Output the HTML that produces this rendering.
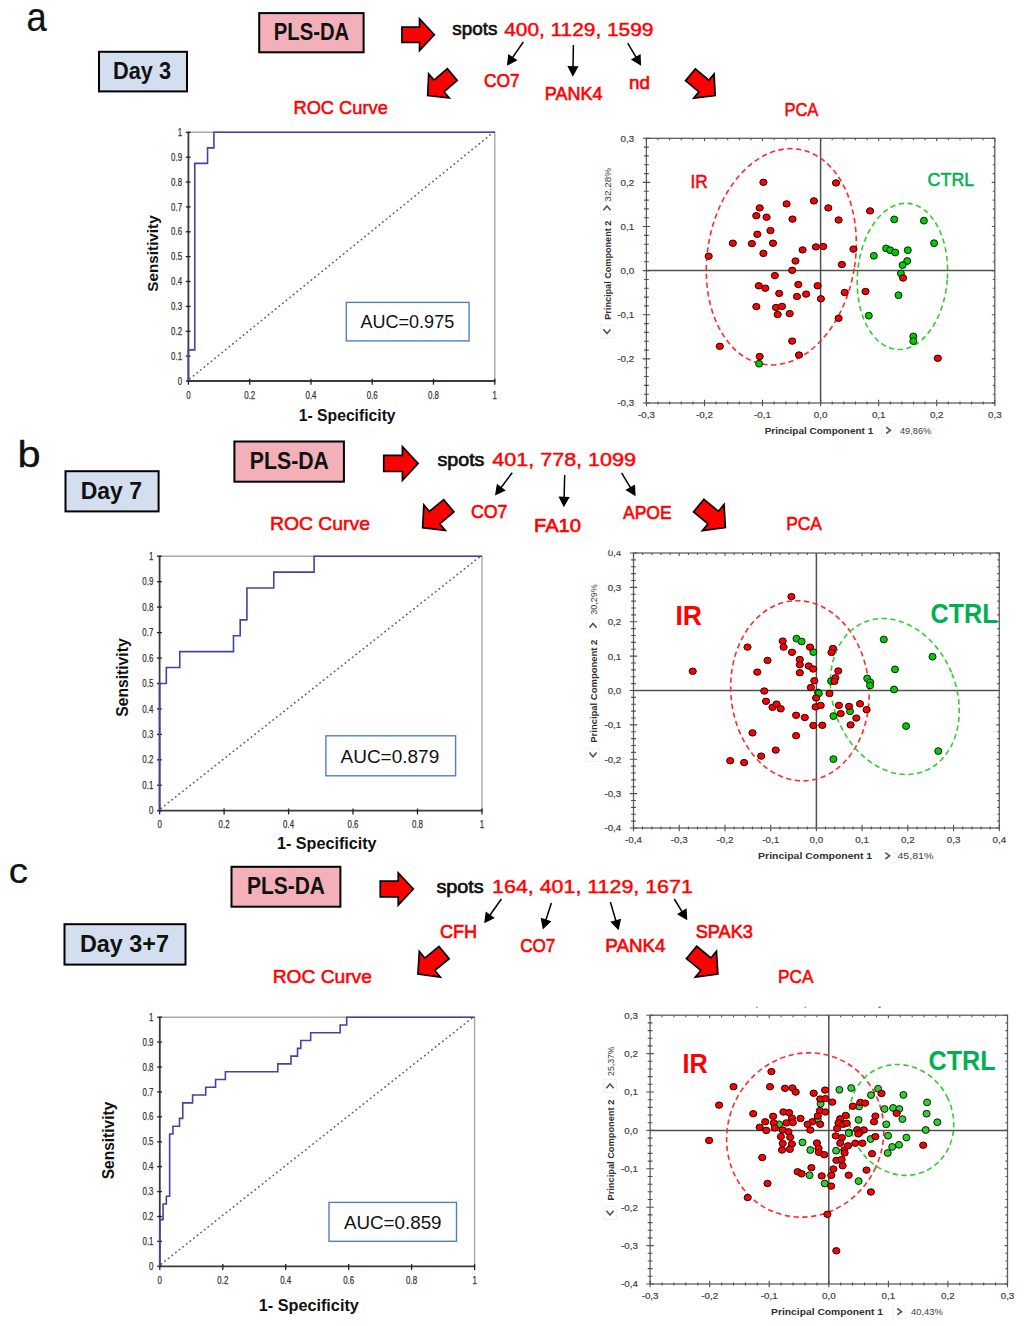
<!DOCTYPE html><html><head><meta charset="utf-8"><style>html,body{margin:0;padding:0;background:#fff;overflow:hidden}svg{display:block}text{font-family:"Liberation Sans",sans-serif}</style></head><body>
<svg width="1024" height="1326" viewBox="0 0 1024 1326">
<rect width="1024" height="1326" fill="#fff"/>
<text x="26.5" y="30.5" font-size="41" fill="#111" textLength="20.2" lengthAdjust="spacingAndGlyphs" stroke="#111" stroke-width="0.2" stroke-linejoin="round">a</text>
<rect x="99.0" y="51.8" width="88.0" height="39.6" fill="#d3dfee" stroke="#000" stroke-width="2"/>
<text x="113.0" y="79.1" font-size="23.5" fill="#111" font-weight="bold" textLength="58.0" lengthAdjust="spacingAndGlyphs">Day 3</text>
<rect x="259.2" y="13.1" width="104.4" height="39.2" fill="#f3b0b8" stroke="#000" stroke-width="2"/>
<text x="273.8" y="40.0" font-size="23.5" fill="#111" font-weight="bold" textLength="75.4" lengthAdjust="spacingAndGlyphs">PLS-DA</text>
<path transform="translate(401.95,34.70) rotate(0.00)" d="M0,-7.63 L17.60,-7.63 L17.60,-15.85 L32.35,0 L17.60,15.85 L17.60,7.63 L0,7.63 Z" fill="#ff0000" stroke="#000" stroke-width="1.7" stroke-linejoin="miter"/>
<text x="452.3" y="35.3" font-size="19" fill="#111" textLength="45.0" lengthAdjust="spacingAndGlyphs" stroke="#111" stroke-width="0.7" stroke-linejoin="round">spots</text>
<text x="504.2" y="35.5" font-size="19" fill="#ff0000" textLength="149.2" lengthAdjust="spacingAndGlyphs" stroke="#ff0000" stroke-width="0.45" stroke-linejoin="round">400, 1129, 1599</text>
<line x1="523.3" y1="42.0" x2="512.3" y2="57.9" stroke="#000" stroke-width="1.5"/>
<path d="M506.9,65.7 L508.3,53.9 L517.5,60.3 Z" fill="#000"/>
<line x1="573.4" y1="45.0" x2="573.0" y2="67.2" stroke="#000" stroke-width="1.5"/>
<path d="M572.8,76.7 L567.4,66.1 L578.6,66.3 Z" fill="#000"/>
<line x1="627.7" y1="43.1" x2="636.3" y2="57.6" stroke="#000" stroke-width="1.5"/>
<path d="M641.1,65.8 L630.9,59.6 L640.6,53.9 Z" fill="#000"/>
<text x="484.0" y="87.3" font-size="19" fill="#ff0000" textLength="35.7" lengthAdjust="spacingAndGlyphs" stroke="#ff0000" stroke-width="0.65" stroke-linejoin="round">CO7</text>
<text x="544.8" y="100.2" font-size="19" fill="#ff0000" textLength="57.6" lengthAdjust="spacingAndGlyphs" stroke="#ff0000" stroke-width="0.65" stroke-linejoin="round">PANK4</text>
<text x="629.0" y="88.6" font-size="19" fill="#ff0000" textLength="20.9" lengthAdjust="spacingAndGlyphs" stroke="#ff0000" stroke-width="0.65" stroke-linejoin="round">nd</text>
<path transform="translate(452.30,74.60) rotate(139.61)" d="M0,-7.62 L17.56,-7.62 L17.56,-15.82 L32.28,0 L17.56,15.82 L17.56,7.62 L0,7.62 Z" fill="#ff0000" stroke="#000" stroke-width="1.7" stroke-linejoin="miter"/>
<path transform="translate(690.45,74.75) rotate(40.04)" d="M0,-7.62 L17.57,-7.62 L17.57,-15.83 L32.30,0 L17.57,15.83 L17.57,7.62 L0,7.62 Z" fill="#ff0000" stroke="#000" stroke-width="1.7" stroke-linejoin="miter"/>
<text x="293.5" y="113.8" font-size="19" fill="#ff0000" textLength="94.3" lengthAdjust="spacingAndGlyphs" stroke="#ff0000" stroke-width="0.55" stroke-linejoin="round">ROC Curve</text>
<text x="784.4" y="115.7" font-size="19" fill="#ff0000" textLength="34.0" lengthAdjust="spacingAndGlyphs" stroke="#ff0000" stroke-width="0.55" stroke-linejoin="round">PCA</text>
<path d="M188.4,132.3 H494.8 V381.0" fill="none" stroke="#aaa" stroke-width="1.4"/>
<line x1="189.9" y1="378.7" x2="494.8" y2="131.2" stroke="#606060" stroke-width="1.6" stroke-linecap="round" stroke-dasharray="0.4,4.2"/>
<path d="M188.4,131.8 V381.0 H495.3" fill="none" stroke="#3a3a3a" stroke-width="1.8"/>
<line x1="185.8" y1="381.0" x2="190.6" y2="381.0" stroke="#222" stroke-width="1.3"/>
<text x="177.7" y="384.6" font-size="11" fill="#333" textLength="4.4" lengthAdjust="spacingAndGlyphs" stroke="#333" stroke-width="0.25" stroke-linejoin="round">0</text>
<line x1="185.8" y1="356.1" x2="190.6" y2="356.1" stroke="#222" stroke-width="1.3"/>
<text x="171.1" y="359.7" font-size="11" fill="#333" textLength="11.0" lengthAdjust="spacingAndGlyphs" stroke="#333" stroke-width="0.25" stroke-linejoin="round">0.1</text>
<line x1="185.8" y1="331.3" x2="190.6" y2="331.3" stroke="#222" stroke-width="1.3"/>
<text x="171.1" y="334.9" font-size="11" fill="#333" textLength="11.0" lengthAdjust="spacingAndGlyphs" stroke="#333" stroke-width="0.25" stroke-linejoin="round">0.2</text>
<line x1="185.8" y1="306.4" x2="190.6" y2="306.4" stroke="#222" stroke-width="1.3"/>
<text x="171.1" y="310.0" font-size="11" fill="#333" textLength="11.0" lengthAdjust="spacingAndGlyphs" stroke="#333" stroke-width="0.25" stroke-linejoin="round">0.3</text>
<line x1="185.8" y1="281.5" x2="190.6" y2="281.5" stroke="#222" stroke-width="1.3"/>
<text x="171.1" y="285.1" font-size="11" fill="#333" textLength="11.0" lengthAdjust="spacingAndGlyphs" stroke="#333" stroke-width="0.25" stroke-linejoin="round">0.4</text>
<line x1="185.8" y1="256.6" x2="190.6" y2="256.6" stroke="#222" stroke-width="1.3"/>
<text x="171.1" y="260.2" font-size="11" fill="#333" textLength="11.0" lengthAdjust="spacingAndGlyphs" stroke="#333" stroke-width="0.25" stroke-linejoin="round">0.5</text>
<line x1="185.8" y1="231.8" x2="190.6" y2="231.8" stroke="#222" stroke-width="1.3"/>
<text x="171.1" y="235.4" font-size="11" fill="#333" textLength="11.0" lengthAdjust="spacingAndGlyphs" stroke="#333" stroke-width="0.25" stroke-linejoin="round">0.6</text>
<line x1="185.8" y1="206.9" x2="190.6" y2="206.9" stroke="#222" stroke-width="1.3"/>
<text x="171.1" y="210.5" font-size="11" fill="#333" textLength="11.0" lengthAdjust="spacingAndGlyphs" stroke="#333" stroke-width="0.25" stroke-linejoin="round">0.7</text>
<line x1="185.8" y1="182.0" x2="190.6" y2="182.0" stroke="#222" stroke-width="1.3"/>
<text x="171.1" y="185.6" font-size="11" fill="#333" textLength="11.0" lengthAdjust="spacingAndGlyphs" stroke="#333" stroke-width="0.25" stroke-linejoin="round">0.8</text>
<line x1="185.8" y1="157.2" x2="190.6" y2="157.2" stroke="#222" stroke-width="1.3"/>
<text x="171.1" y="160.8" font-size="11" fill="#333" textLength="11.0" lengthAdjust="spacingAndGlyphs" stroke="#333" stroke-width="0.25" stroke-linejoin="round">0.9</text>
<line x1="185.8" y1="132.3" x2="190.6" y2="132.3" stroke="#222" stroke-width="1.3"/>
<text x="177.7" y="135.9" font-size="11" fill="#333" textLength="4.4" lengthAdjust="spacingAndGlyphs" stroke="#333" stroke-width="0.25" stroke-linejoin="round">1</text>
<line x1="188.4" y1="378.8" x2="188.4" y2="384.7" stroke="#222" stroke-width="1.3"/>
<text x="186.2" y="398.7" font-size="11" fill="#333" textLength="4.4" lengthAdjust="spacingAndGlyphs" stroke="#333" stroke-width="0.25" stroke-linejoin="round">0</text>
<line x1="249.7" y1="378.8" x2="249.7" y2="384.7" stroke="#222" stroke-width="1.3"/>
<text x="244.2" y="398.7" font-size="11" fill="#333" textLength="11.0" lengthAdjust="spacingAndGlyphs" stroke="#333" stroke-width="0.25" stroke-linejoin="round">0.2</text>
<line x1="311.0" y1="378.8" x2="311.0" y2="384.7" stroke="#222" stroke-width="1.3"/>
<text x="305.5" y="398.7" font-size="11" fill="#333" textLength="11.0" lengthAdjust="spacingAndGlyphs" stroke="#333" stroke-width="0.25" stroke-linejoin="round">0.4</text>
<line x1="372.2" y1="378.8" x2="372.2" y2="384.7" stroke="#222" stroke-width="1.3"/>
<text x="366.7" y="398.7" font-size="11" fill="#333" textLength="11.0" lengthAdjust="spacingAndGlyphs" stroke="#333" stroke-width="0.25" stroke-linejoin="round">0.6</text>
<line x1="433.5" y1="378.8" x2="433.5" y2="384.7" stroke="#222" stroke-width="1.3"/>
<text x="428.0" y="398.7" font-size="11" fill="#333" textLength="11.0" lengthAdjust="spacingAndGlyphs" stroke="#333" stroke-width="0.25" stroke-linejoin="round">0.8</text>
<line x1="494.8" y1="378.8" x2="494.8" y2="384.7" stroke="#222" stroke-width="1.3"/>
<text x="492.6" y="398.7" font-size="11" fill="#333" textLength="4.4" lengthAdjust="spacingAndGlyphs" stroke="#333" stroke-width="0.25" stroke-linejoin="round">1</text>
<path d="M188.40,381.00 L188.40,349.91 L194.78,349.91 L194.78,163.39 L207.55,163.39 L207.55,147.84 L213.93,147.84 L213.93,132.30 L494.80,132.30" fill="none" stroke="#4343a6" stroke-width="1.6" stroke-linejoin="miter"/>
<rect x="346.3" y="302.4" width="122.8" height="38.5" fill="#fff" stroke="#4f7fc0" stroke-width="1.4"/>
<text transform="translate(152.3,253.5) rotate(-90)" x="0" y="5.6" font-size="15.5" fill="#111" font-weight="bold" text-anchor="middle" textLength="76.3" lengthAdjust="spacingAndGlyphs">Sensitivity</text>
<text x="298.8" y="420.9" font-size="16" fill="#111" font-weight="bold" textLength="96.8" lengthAdjust="spacingAndGlyphs">1- Specificity</text>
<text x="360.5" y="328.3" font-size="18.5" fill="#111" textLength="93.7" lengthAdjust="spacingAndGlyphs">AUC=0.975</text>
<rect x="646.4" y="138.3" width="348.4" height="264.7" fill="none" stroke="#606060" stroke-width="1.3"/>
<path d="M646.4,399.7V406.3M646.4,138.3V141.3M658.0,401.4V404.6M658.0,138.3V140.3M669.6,401.4V404.6M669.6,138.3V140.3M681.2,401.4V404.6M681.2,138.3V140.3M692.9,401.4V404.6M692.9,138.3V140.3M704.5,399.7V406.3M704.5,138.3V141.3M716.1,401.4V404.6M716.1,138.3V140.3M727.7,401.4V404.6M727.7,138.3V140.3M739.3,401.4V404.6M739.3,138.3V140.3M750.9,401.4V404.6M750.9,138.3V140.3M762.5,399.7V406.3M762.5,138.3V141.3M774.1,401.4V404.6M774.1,138.3V140.3M785.8,401.4V404.6M785.8,138.3V140.3M797.4,401.4V404.6M797.4,138.3V140.3M809.0,401.4V404.6M809.0,138.3V140.3M820.6,399.7V406.3M820.6,138.3V141.3M832.2,401.4V404.6M832.2,138.3V140.3M843.8,401.4V404.6M843.8,138.3V140.3M855.4,401.4V404.6M855.4,138.3V140.3M867.1,401.4V404.6M867.1,138.3V140.3M878.7,399.7V406.3M878.7,138.3V141.3M890.3,401.4V404.6M890.3,138.3V140.3M901.9,401.4V404.6M901.9,138.3V140.3M913.5,401.4V404.6M913.5,138.3V140.3M925.1,401.4V404.6M925.1,138.3V140.3M936.7,399.7V406.3M936.7,138.3V141.3M948.3,401.4V404.6M948.3,138.3V140.3M960.0,401.4V404.6M960.0,138.3V140.3M971.6,401.4V404.6M971.6,138.3V140.3M983.2,401.4V404.6M983.2,138.3V140.3M994.8,399.7V406.3M994.8,138.3V141.3M642.7,403.0H650.1M994.8,403.0H991.8M644.0,394.2H648.8M994.8,394.2H992.8M644.0,385.4H648.8M994.8,385.4H992.8M644.0,376.5H648.8M994.8,376.5H992.8M644.0,367.7H648.8M994.8,367.7H992.8M642.7,358.9H650.1M994.8,358.9H991.8M644.0,350.1H648.8M994.8,350.1H992.8M644.0,341.2H648.8M994.8,341.2H992.8M644.0,332.4H648.8M994.8,332.4H992.8M644.0,323.6H648.8M994.8,323.6H992.8M642.7,314.8H650.1M994.8,314.8H991.8M644.0,305.9H648.8M994.8,305.9H992.8M644.0,297.1H648.8M994.8,297.1H992.8M644.0,288.3H648.8M994.8,288.3H992.8M644.0,279.5H648.8M994.8,279.5H992.8M642.7,270.6H650.1M994.8,270.6H991.8M644.0,261.8H648.8M994.8,261.8H992.8M644.0,253.0H648.8M994.8,253.0H992.8M644.0,244.2H648.8M994.8,244.2H992.8M644.0,235.4H648.8M994.8,235.4H992.8M642.7,226.5H650.1M994.8,226.5H991.8M644.0,217.7H648.8M994.8,217.7H992.8M644.0,208.9H648.8M994.8,208.9H992.8M644.0,200.1H648.8M994.8,200.1H992.8M644.0,191.2H648.8M994.8,191.2H992.8M642.7,182.4H650.1M994.8,182.4H991.8M644.0,173.6H648.8M994.8,173.6H992.8M644.0,164.8H648.8M994.8,164.8H992.8M644.0,155.9H648.8M994.8,155.9H992.8M644.0,147.1H648.8M994.8,147.1H992.8M642.7,138.3H650.1M994.8,138.3H991.8" stroke="#505050" stroke-width="1.1" fill="none"/>
<line x1="646.4" y1="270.6" x2="994.8" y2="270.6" stroke="#505050" stroke-width="1.5"/>
<line x1="820.6" y1="138.3" x2="820.6" y2="403.0" stroke="#505050" stroke-width="1.5"/>
<text x="634.2" y="406.4" font-size="9.8" fill="#404040" text-anchor="end" stroke="#404040" stroke-width="0.2" stroke-linejoin="round">-0,3</text>
<text x="634.2" y="362.3" font-size="9.8" fill="#404040" text-anchor="end" stroke="#404040" stroke-width="0.2" stroke-linejoin="round">-0,2</text>
<text x="634.2" y="318.2" font-size="9.8" fill="#404040" text-anchor="end" stroke="#404040" stroke-width="0.2" stroke-linejoin="round">-0,1</text>
<text x="634.2" y="274.0" font-size="9.8" fill="#404040" text-anchor="end" stroke="#404040" stroke-width="0.2" stroke-linejoin="round">0,0</text>
<text x="634.2" y="229.9" font-size="9.8" fill="#404040" text-anchor="end" stroke="#404040" stroke-width="0.2" stroke-linejoin="round">0,1</text>
<text x="634.2" y="185.8" font-size="9.8" fill="#404040" text-anchor="end" stroke="#404040" stroke-width="0.2" stroke-linejoin="round">0,2</text>
<text x="634.2" y="141.7" font-size="9.8" fill="#404040" text-anchor="end" stroke="#404040" stroke-width="0.2" stroke-linejoin="round">0,3</text>
<text x="646.4" y="418.3" font-size="9.8" fill="#404040" text-anchor="middle" stroke="#404040" stroke-width="0.2" stroke-linejoin="round">-0,3</text>
<text x="704.5" y="418.3" font-size="9.8" fill="#404040" text-anchor="middle" stroke="#404040" stroke-width="0.2" stroke-linejoin="round">-0,2</text>
<text x="762.5" y="418.3" font-size="9.8" fill="#404040" text-anchor="middle" stroke="#404040" stroke-width="0.2" stroke-linejoin="round">-0,1</text>
<text x="820.6" y="418.3" font-size="9.8" fill="#404040" text-anchor="middle" stroke="#404040" stroke-width="0.2" stroke-linejoin="round">0,0</text>
<text x="878.7" y="418.3" font-size="9.8" fill="#404040" text-anchor="middle" stroke="#404040" stroke-width="0.2" stroke-linejoin="round">0,1</text>
<text x="936.7" y="418.3" font-size="9.8" fill="#404040" text-anchor="middle" stroke="#404040" stroke-width="0.2" stroke-linejoin="round">0,2</text>
<text x="994.8" y="418.3" font-size="9.8" fill="#404040" text-anchor="middle" stroke="#404040" stroke-width="0.2" stroke-linejoin="round">0,3</text>
<ellipse cx="781.3" cy="256.8" rx="73.9" ry="108.9" transform="rotate(9.3 781.3 256.8)" fill="none" stroke="#ff2a2a" stroke-width="1.6" stroke-dasharray="5.3,3.5"/>
<ellipse cx="902.4" cy="276.4" rx="45.0" ry="73.2" transform="rotate(4.3 902.4 276.4)" fill="none" stroke="#33cc33" stroke-width="1.6" stroke-dasharray="5.3,3.5"/>
<ellipse cx="894.2" cy="219.4" rx="3.5" ry="3.4" fill="#00cc00" stroke="#002200" stroke-width="1"/>
<ellipse cx="923.9" cy="220.7" rx="3.5" ry="3.4" fill="#00cc00" stroke="#002200" stroke-width="1"/>
<ellipse cx="934.1" cy="243.2" rx="3.5" ry="3.4" fill="#00cc00" stroke="#002200" stroke-width="1"/>
<ellipse cx="873.8" cy="255.8" rx="3.5" ry="3.4" fill="#00cc00" stroke="#002200" stroke-width="1"/>
<ellipse cx="886.1" cy="248.4" rx="3.5" ry="3.4" fill="#00cc00" stroke="#002200" stroke-width="1"/>
<ellipse cx="890.2" cy="250.2" rx="3.5" ry="3.4" fill="#00cc00" stroke="#002200" stroke-width="1"/>
<ellipse cx="895.2" cy="252.5" rx="3.5" ry="3.4" fill="#00cc00" stroke="#002200" stroke-width="1"/>
<ellipse cx="907.8" cy="250.2" rx="3.5" ry="3.4" fill="#00cc00" stroke="#002200" stroke-width="1"/>
<ellipse cx="907.2" cy="261.0" rx="3.5" ry="3.4" fill="#00cc00" stroke="#002200" stroke-width="1"/>
<ellipse cx="902.6" cy="265.1" rx="3.5" ry="3.4" fill="#00cc00" stroke="#002200" stroke-width="1"/>
<ellipse cx="900.9" cy="273.4" rx="3.5" ry="3.4" fill="#00cc00" stroke="#002200" stroke-width="1"/>
<ellipse cx="898.5" cy="295.2" rx="3.5" ry="3.4" fill="#00cc00" stroke="#002200" stroke-width="1"/>
<ellipse cx="868.8" cy="315.7" rx="3.5" ry="3.4" fill="#00cc00" stroke="#002200" stroke-width="1"/>
<ellipse cx="913.3" cy="336.4" rx="3.5" ry="3.4" fill="#00cc00" stroke="#002200" stroke-width="1"/>
<ellipse cx="913.3" cy="341.1" rx="3.5" ry="3.4" fill="#00cc00" stroke="#002200" stroke-width="1"/>
<ellipse cx="759.1" cy="363.7" rx="3.5" ry="3.4" fill="#00cc00" stroke="#002200" stroke-width="1"/>
<ellipse cx="708.7" cy="256.2" rx="3.6" ry="3.2" fill="#ff0000" stroke="#220000" stroke-width="1"/>
<ellipse cx="732.8" cy="243.2" rx="3.6" ry="3.2" fill="#ff0000" stroke="#220000" stroke-width="1"/>
<ellipse cx="751.9" cy="243.6" rx="3.6" ry="3.2" fill="#ff0000" stroke="#220000" stroke-width="1"/>
<ellipse cx="757.3" cy="234.3" rx="3.6" ry="3.2" fill="#ff0000" stroke="#220000" stroke-width="1"/>
<ellipse cx="763.4" cy="253.4" rx="3.6" ry="3.2" fill="#ff0000" stroke="#220000" stroke-width="1"/>
<ellipse cx="773.0" cy="243.2" rx="3.6" ry="3.2" fill="#ff0000" stroke="#220000" stroke-width="1"/>
<ellipse cx="770.5" cy="230.6" rx="3.6" ry="3.2" fill="#ff0000" stroke="#220000" stroke-width="1"/>
<ellipse cx="756.3" cy="215.7" rx="3.6" ry="3.2" fill="#ff0000" stroke="#220000" stroke-width="1"/>
<ellipse cx="759.7" cy="207.9" rx="3.6" ry="3.2" fill="#ff0000" stroke="#220000" stroke-width="1"/>
<ellipse cx="766.6" cy="217.2" rx="3.6" ry="3.2" fill="#ff0000" stroke="#220000" stroke-width="1"/>
<ellipse cx="763.4" cy="182.3" rx="3.6" ry="3.2" fill="#ff0000" stroke="#220000" stroke-width="1"/>
<ellipse cx="786.6" cy="203.9" rx="3.6" ry="3.2" fill="#ff0000" stroke="#220000" stroke-width="1"/>
<ellipse cx="792.5" cy="219.1" rx="3.6" ry="3.2" fill="#ff0000" stroke="#220000" stroke-width="1"/>
<ellipse cx="813.9" cy="200.9" rx="3.6" ry="3.2" fill="#ff0000" stroke="#220000" stroke-width="1"/>
<ellipse cx="828.3" cy="207.9" rx="3.6" ry="3.2" fill="#ff0000" stroke="#220000" stroke-width="1"/>
<ellipse cx="802.6" cy="249.9" rx="3.6" ry="3.2" fill="#ff0000" stroke="#220000" stroke-width="1"/>
<ellipse cx="815.9" cy="246.9" rx="3.6" ry="3.2" fill="#ff0000" stroke="#220000" stroke-width="1"/>
<ellipse cx="823.2" cy="246.5" rx="3.6" ry="3.2" fill="#ff0000" stroke="#220000" stroke-width="1"/>
<ellipse cx="795.5" cy="261.0" rx="3.6" ry="3.2" fill="#ff0000" stroke="#220000" stroke-width="1"/>
<ellipse cx="792.2" cy="270.3" rx="3.6" ry="3.2" fill="#ff0000" stroke="#220000" stroke-width="1"/>
<ellipse cx="774.9" cy="275.6" rx="3.6" ry="3.2" fill="#ff0000" stroke="#220000" stroke-width="1"/>
<ellipse cx="836.0" cy="182.9" rx="3.6" ry="3.2" fill="#ff0000" stroke="#220000" stroke-width="1"/>
<ellipse cx="838.6" cy="220.0" rx="3.6" ry="3.2" fill="#ff0000" stroke="#220000" stroke-width="1"/>
<ellipse cx="870.1" cy="210.9" rx="3.6" ry="3.2" fill="#ff0000" stroke="#220000" stroke-width="1"/>
<ellipse cx="853.4" cy="249.1" rx="3.6" ry="3.2" fill="#ff0000" stroke="#220000" stroke-width="1"/>
<ellipse cx="841.9" cy="264.5" rx="3.6" ry="3.2" fill="#ff0000" stroke="#220000" stroke-width="1"/>
<ellipse cx="758.8" cy="285.8" rx="3.6" ry="3.2" fill="#ff0000" stroke="#220000" stroke-width="1"/>
<ellipse cx="765.3" cy="288.2" rx="3.6" ry="3.2" fill="#ff0000" stroke="#220000" stroke-width="1"/>
<ellipse cx="779.2" cy="293.4" rx="3.6" ry="3.2" fill="#ff0000" stroke="#220000" stroke-width="1"/>
<ellipse cx="798.3" cy="284.5" rx="3.6" ry="3.2" fill="#ff0000" stroke="#220000" stroke-width="1"/>
<ellipse cx="797.0" cy="296.5" rx="3.6" ry="3.2" fill="#ff0000" stroke="#220000" stroke-width="1"/>
<ellipse cx="806.1" cy="294.1" rx="3.6" ry="3.2" fill="#ff0000" stroke="#220000" stroke-width="1"/>
<ellipse cx="817.6" cy="285.8" rx="3.6" ry="3.2" fill="#ff0000" stroke="#220000" stroke-width="1"/>
<ellipse cx="820.9" cy="298.8" rx="3.6" ry="3.2" fill="#ff0000" stroke="#220000" stroke-width="1"/>
<ellipse cx="756.3" cy="306.6" rx="3.6" ry="3.2" fill="#ff0000" stroke="#220000" stroke-width="1"/>
<ellipse cx="776.0" cy="307.5" rx="3.6" ry="3.2" fill="#ff0000" stroke="#220000" stroke-width="1"/>
<ellipse cx="782.0" cy="306.4" rx="3.6" ry="3.2" fill="#ff0000" stroke="#220000" stroke-width="1"/>
<ellipse cx="777.7" cy="314.5" rx="3.6" ry="3.2" fill="#ff0000" stroke="#220000" stroke-width="1"/>
<ellipse cx="789.7" cy="313.6" rx="3.6" ry="3.2" fill="#ff0000" stroke="#220000" stroke-width="1"/>
<ellipse cx="792.2" cy="341.1" rx="3.6" ry="3.2" fill="#ff0000" stroke="#220000" stroke-width="1"/>
<ellipse cx="719.8" cy="346.3" rx="3.6" ry="3.2" fill="#ff0000" stroke="#220000" stroke-width="1"/>
<ellipse cx="759.7" cy="356.5" rx="3.6" ry="3.2" fill="#ff0000" stroke="#220000" stroke-width="1"/>
<ellipse cx="799.0" cy="355.0" rx="3.6" ry="3.2" fill="#ff0000" stroke="#220000" stroke-width="1"/>
<ellipse cx="844.7" cy="292.5" rx="3.6" ry="3.2" fill="#ff0000" stroke="#220000" stroke-width="1"/>
<ellipse cx="865.5" cy="291.5" rx="3.6" ry="3.2" fill="#ff0000" stroke="#220000" stroke-width="1"/>
<ellipse cx="838.6" cy="318.3" rx="3.6" ry="3.2" fill="#ff0000" stroke="#220000" stroke-width="1"/>
<ellipse cx="903.1" cy="278.0" rx="3.6" ry="3.2" fill="#ff0000" stroke="#220000" stroke-width="1"/>
<ellipse cx="937.8" cy="358.3" rx="3.6" ry="3.2" fill="#ff0000" stroke="#220000" stroke-width="1"/>
<text transform="translate(607.0,270.2) rotate(-90)" x="0" y="3.5" font-size="9.8" fill="#303030" font-weight="bold" text-anchor="middle" textLength="99.1" lengthAdjust="spacingAndGlyphs">Principal Component 2</text>
<text transform="translate(607.0,184.8) rotate(-90)" x="0" y="3.5" font-size="9.8" fill="#404040" text-anchor="middle" textLength="33.7" lengthAdjust="spacingAndGlyphs">32,28%</text>
<rect x="600.5" y="201.5" width="13" height="13" fill="#fff" stroke="#eceef5" stroke-width="0.8"/>
<path d="M603.4,210.2 L607.0,206.0 L610.6,210.2" fill="none" stroke="#555" stroke-width="1.6"/>
<rect x="600.5" y="324.9" width="13" height="13" fill="#fff" stroke="#eceef5" stroke-width="0.8"/>
<path d="M603.4,329.2 L607.0,333.4 L610.6,329.2" fill="none" stroke="#555" stroke-width="1.6"/>
<text x="764.7" y="433.8" font-size="9.8" fill="#303030" font-weight="bold" textLength="108.5" lengthAdjust="spacingAndGlyphs">Principal Component 1</text>
<rect x="881.7" y="423.8" width="13" height="13" fill="#fff" stroke="#eceef5" stroke-width="0.8"/>
<path d="M886.2,427.1 L890.4,430.3 L886.2,433.5" fill="none" stroke="#555" stroke-width="1.6"/>
<text x="900.0" y="433.8" font-size="9.8" fill="#404040" textLength="31.2" lengthAdjust="spacingAndGlyphs">49,86%</text>
<text x="690.5" y="188.0" font-size="18.5" fill="#ff0000" textLength="17.2" lengthAdjust="spacingAndGlyphs" stroke="#ff0000" stroke-width="0.5" stroke-linejoin="round">IR</text>
<text x="927.6" y="185.7" font-size="18" fill="#00b050" textLength="46.6" lengthAdjust="spacingAndGlyphs" stroke="#00b050" stroke-width="0.5" stroke-linejoin="round">CTRL</text>
<text x="17.6" y="466.9" font-size="36" fill="#111" textLength="23.1" lengthAdjust="spacingAndGlyphs" stroke="#111" stroke-width="0.3" stroke-linejoin="round">b</text>
<rect x="65.5" y="471.2" width="93.1" height="40.2" fill="#d3dfee" stroke="#000" stroke-width="2"/>
<text x="80.7" y="498.5" font-size="23.5" fill="#111" font-weight="bold" textLength="61.3" lengthAdjust="spacingAndGlyphs">Day 7</text>
<rect x="234.4" y="441.5" width="109.5" height="40.2" fill="#f3b0b8" stroke="#000" stroke-width="2"/>
<text x="249.8" y="468.7" font-size="23.5" fill="#111" font-weight="bold" textLength="79.2" lengthAdjust="spacingAndGlyphs">PLS-DA</text>
<path transform="translate(383.75,463.40) rotate(0.00)" d="M0,-8.11 L18.69,-8.11 L18.69,-16.83 L34.35,0 L18.69,16.83 L18.69,8.11 L0,8.11 Z" fill="#ff0000" stroke="#000" stroke-width="1.7" stroke-linejoin="miter"/>
<text x="437.5" y="465.6" font-size="19" fill="#111" textLength="46.9" lengthAdjust="spacingAndGlyphs" stroke="#111" stroke-width="0.7" stroke-linejoin="round">spots</text>
<text x="492.3" y="465.6" font-size="19" fill="#ff0000" textLength="143.7" lengthAdjust="spacingAndGlyphs" stroke="#ff0000" stroke-width="0.45" stroke-linejoin="round">401, 778, 1099</text>
<line x1="512.2" y1="472.8" x2="500.7" y2="488.0" stroke="#000" stroke-width="1.5"/>
<path d="M495.0,495.6 L496.9,483.8 L505.8,490.6 Z" fill="#000"/>
<line x1="564.7" y1="475.0" x2="564.1" y2="497.7" stroke="#000" stroke-width="1.5"/>
<path d="M563.8,507.2 L558.5,496.5 L569.7,496.9 Z" fill="#000"/>
<line x1="621.6" y1="472.8" x2="630.7" y2="488.1" stroke="#000" stroke-width="1.5"/>
<path d="M635.6,496.3 L625.4,490.1 L635.0,484.4 Z" fill="#000"/>
<text x="470.9" y="518.1" font-size="19" fill="#ff0000" textLength="36.6" lengthAdjust="spacingAndGlyphs" stroke="#ff0000" stroke-width="0.65" stroke-linejoin="round">CO7</text>
<text x="534.0" y="532.2" font-size="19" fill="#ff0000" textLength="47.0" lengthAdjust="spacingAndGlyphs" stroke="#ff0000" stroke-width="0.65" stroke-linejoin="round">FA10</text>
<text x="623.0" y="518.8" font-size="19" fill="#ff0000" textLength="48.6" lengthAdjust="spacingAndGlyphs" stroke="#ff0000" stroke-width="0.65" stroke-linejoin="round">APOE</text>
<path transform="translate(448.80,505.75) rotate(140.10)" d="M0,-8.05 L18.56,-8.05 L18.56,-16.72 L34.12,0 L18.56,16.72 L18.56,8.05 L0,8.05 Z" fill="#ff0000" stroke="#000" stroke-width="1.7" stroke-linejoin="miter"/>
<path transform="translate(698.75,505.59) rotate(39.63)" d="M0,-8.16 L18.80,-8.16 L18.80,-16.94 L34.56,0 L18.80,16.94 L18.80,8.16 L0,8.16 Z" fill="#ff0000" stroke="#000" stroke-width="1.7" stroke-linejoin="miter"/>
<text x="269.9" y="530.3" font-size="19" fill="#ff0000" textLength="100.1" lengthAdjust="spacingAndGlyphs" stroke="#ff0000" stroke-width="0.55" stroke-linejoin="round">ROC Curve</text>
<text x="786.2" y="530.4" font-size="19" fill="#ff0000" textLength="35.8" lengthAdjust="spacingAndGlyphs" stroke="#ff0000" stroke-width="0.55" stroke-linejoin="round">PCA</text>
<path d="M159.6,556.2 H482.0 V810.7" fill="none" stroke="#aaa" stroke-width="1.4"/>
<line x1="161.1" y1="808.4" x2="482.0" y2="555.1" stroke="#606060" stroke-width="1.6" stroke-linecap="round" stroke-dasharray="0.4,4.2"/>
<path d="M159.6,555.7 V810.7 H482.5" fill="none" stroke="#3a3a3a" stroke-width="1.8"/>
<line x1="157.0" y1="810.7" x2="161.8" y2="810.7" stroke="#222" stroke-width="1.3"/>
<text x="148.9" y="814.3" font-size="11" fill="#333" textLength="4.4" lengthAdjust="spacingAndGlyphs" stroke="#333" stroke-width="0.25" stroke-linejoin="round">0</text>
<line x1="157.0" y1="785.2" x2="161.8" y2="785.2" stroke="#222" stroke-width="1.3"/>
<text x="142.3" y="788.9" font-size="11" fill="#333" textLength="11.0" lengthAdjust="spacingAndGlyphs" stroke="#333" stroke-width="0.25" stroke-linejoin="round">0.1</text>
<line x1="157.0" y1="759.8" x2="161.8" y2="759.8" stroke="#222" stroke-width="1.3"/>
<text x="142.3" y="763.4" font-size="11" fill="#333" textLength="11.0" lengthAdjust="spacingAndGlyphs" stroke="#333" stroke-width="0.25" stroke-linejoin="round">0.2</text>
<line x1="157.0" y1="734.4" x2="161.8" y2="734.4" stroke="#222" stroke-width="1.3"/>
<text x="142.3" y="738.0" font-size="11" fill="#333" textLength="11.0" lengthAdjust="spacingAndGlyphs" stroke="#333" stroke-width="0.25" stroke-linejoin="round">0.3</text>
<line x1="157.0" y1="708.9" x2="161.8" y2="708.9" stroke="#222" stroke-width="1.3"/>
<text x="142.3" y="712.5" font-size="11" fill="#333" textLength="11.0" lengthAdjust="spacingAndGlyphs" stroke="#333" stroke-width="0.25" stroke-linejoin="round">0.4</text>
<line x1="157.0" y1="683.5" x2="161.8" y2="683.5" stroke="#222" stroke-width="1.3"/>
<text x="142.3" y="687.1" font-size="11" fill="#333" textLength="11.0" lengthAdjust="spacingAndGlyphs" stroke="#333" stroke-width="0.25" stroke-linejoin="round">0.5</text>
<line x1="157.0" y1="658.0" x2="161.8" y2="658.0" stroke="#222" stroke-width="1.3"/>
<text x="142.3" y="661.6" font-size="11" fill="#333" textLength="11.0" lengthAdjust="spacingAndGlyphs" stroke="#333" stroke-width="0.25" stroke-linejoin="round">0.6</text>
<line x1="157.0" y1="632.6" x2="161.8" y2="632.6" stroke="#222" stroke-width="1.3"/>
<text x="142.3" y="636.2" font-size="11" fill="#333" textLength="11.0" lengthAdjust="spacingAndGlyphs" stroke="#333" stroke-width="0.25" stroke-linejoin="round">0.7</text>
<line x1="157.0" y1="607.1" x2="161.8" y2="607.1" stroke="#222" stroke-width="1.3"/>
<text x="142.3" y="610.7" font-size="11" fill="#333" textLength="11.0" lengthAdjust="spacingAndGlyphs" stroke="#333" stroke-width="0.25" stroke-linejoin="round">0.8</text>
<line x1="157.0" y1="581.7" x2="161.8" y2="581.7" stroke="#222" stroke-width="1.3"/>
<text x="142.3" y="585.3" font-size="11" fill="#333" textLength="11.0" lengthAdjust="spacingAndGlyphs" stroke="#333" stroke-width="0.25" stroke-linejoin="round">0.9</text>
<line x1="157.0" y1="556.2" x2="161.8" y2="556.2" stroke="#222" stroke-width="1.3"/>
<text x="148.9" y="559.8" font-size="11" fill="#333" textLength="4.4" lengthAdjust="spacingAndGlyphs" stroke="#333" stroke-width="0.25" stroke-linejoin="round">1</text>
<line x1="159.6" y1="808.5" x2="159.6" y2="814.4" stroke="#222" stroke-width="1.3"/>
<text x="157.4" y="828.4" font-size="11" fill="#333" textLength="4.4" lengthAdjust="spacingAndGlyphs" stroke="#333" stroke-width="0.25" stroke-linejoin="round">0</text>
<line x1="224.1" y1="808.5" x2="224.1" y2="814.4" stroke="#222" stroke-width="1.3"/>
<text x="218.6" y="828.4" font-size="11" fill="#333" textLength="11.0" lengthAdjust="spacingAndGlyphs" stroke="#333" stroke-width="0.25" stroke-linejoin="round">0.2</text>
<line x1="288.6" y1="808.5" x2="288.6" y2="814.4" stroke="#222" stroke-width="1.3"/>
<text x="283.1" y="828.4" font-size="11" fill="#333" textLength="11.0" lengthAdjust="spacingAndGlyphs" stroke="#333" stroke-width="0.25" stroke-linejoin="round">0.4</text>
<line x1="353.0" y1="808.5" x2="353.0" y2="814.4" stroke="#222" stroke-width="1.3"/>
<text x="347.5" y="828.4" font-size="11" fill="#333" textLength="11.0" lengthAdjust="spacingAndGlyphs" stroke="#333" stroke-width="0.25" stroke-linejoin="round">0.6</text>
<line x1="417.5" y1="808.5" x2="417.5" y2="814.4" stroke="#222" stroke-width="1.3"/>
<text x="412.0" y="828.4" font-size="11" fill="#333" textLength="11.0" lengthAdjust="spacingAndGlyphs" stroke="#333" stroke-width="0.25" stroke-linejoin="round">0.8</text>
<line x1="482.0" y1="808.5" x2="482.0" y2="814.4" stroke="#222" stroke-width="1.3"/>
<text x="479.8" y="828.4" font-size="11" fill="#333" textLength="4.4" lengthAdjust="spacingAndGlyphs" stroke="#333" stroke-width="0.25" stroke-linejoin="round">1</text>
<path d="M159.60,810.70 L159.60,683.45 L166.32,683.45 L166.32,667.54 L179.75,667.54 L179.75,651.64 L233.48,651.64 L233.48,635.73 L240.20,635.73 L240.20,619.83 L246.92,619.83 L246.92,588.01 L273.78,588.01 L273.78,572.11 L314.08,572.11 L314.08,556.20 L482.00,556.20" fill="none" stroke="#4343a6" stroke-width="1.6" stroke-linejoin="miter"/>
<rect x="325.9" y="735.8" width="129.7" height="40.0" fill="#fff" stroke="#4f7fc0" stroke-width="1.4"/>
<text transform="translate(122.0,677.6) rotate(-90)" x="0" y="5.9" font-size="16.5" fill="#111" font-weight="bold" text-anchor="middle" textLength="78.4" lengthAdjust="spacingAndGlyphs">Sensitivity</text>
<text x="277.0" y="849.4" font-size="16" fill="#111" font-weight="bold" textLength="99.6" lengthAdjust="spacingAndGlyphs">1- Specificity</text>
<text x="340.5" y="762.8" font-size="18.5" fill="#111" textLength="98.7" lengthAdjust="spacingAndGlyphs">AUC=0.879</text>
<rect x="633.5" y="553.0" width="365.8" height="275.0" fill="none" stroke="#606060" stroke-width="1.3"/>
<path d="M633.5,824.7V831.3M633.5,553.0V556.0M642.6,826.4V829.6M642.6,553.0V555.0M651.8,826.4V829.6M651.8,553.0V555.0M660.9,826.4V829.6M660.9,553.0V555.0M670.1,826.4V829.6M670.1,553.0V555.0M679.2,824.7V831.3M679.2,553.0V556.0M688.4,826.4V829.6M688.4,553.0V555.0M697.5,826.4V829.6M697.5,553.0V555.0M706.7,826.4V829.6M706.7,553.0V555.0M715.8,826.4V829.6M715.8,553.0V555.0M725.0,824.7V831.3M725.0,553.0V556.0M734.1,826.4V829.6M734.1,553.0V555.0M743.2,826.4V829.6M743.2,553.0V555.0M752.4,826.4V829.6M752.4,553.0V555.0M761.5,826.4V829.6M761.5,553.0V555.0M770.7,824.7V831.3M770.7,553.0V556.0M779.8,826.4V829.6M779.8,553.0V555.0M789.0,826.4V829.6M789.0,553.0V555.0M798.1,826.4V829.6M798.1,553.0V555.0M807.3,826.4V829.6M807.3,553.0V555.0M816.4,824.7V831.3M816.4,553.0V556.0M825.5,826.4V829.6M825.5,553.0V555.0M834.7,826.4V829.6M834.7,553.0V555.0M843.8,826.4V829.6M843.8,553.0V555.0M853.0,826.4V829.6M853.0,553.0V555.0M862.1,824.7V831.3M862.1,553.0V556.0M871.3,826.4V829.6M871.3,553.0V555.0M880.4,826.4V829.6M880.4,553.0V555.0M889.6,826.4V829.6M889.6,553.0V555.0M898.7,826.4V829.6M898.7,553.0V555.0M907.8,824.7V831.3M907.8,553.0V556.0M917.0,826.4V829.6M917.0,553.0V555.0M926.1,826.4V829.6M926.1,553.0V555.0M935.3,826.4V829.6M935.3,553.0V555.0M944.4,826.4V829.6M944.4,553.0V555.0M953.6,824.7V831.3M953.6,553.0V556.0M962.7,826.4V829.6M962.7,553.0V555.0M971.9,826.4V829.6M971.9,553.0V555.0M981.0,826.4V829.6M981.0,553.0V555.0M990.2,826.4V829.6M990.2,553.0V555.0M999.3,824.7V831.3M999.3,553.0V556.0M629.8,828.0H637.2M999.3,828.0H996.3M631.1,821.1H635.9M999.3,821.1H997.3M631.1,814.2H635.9M999.3,814.2H997.3M631.1,807.4H635.9M999.3,807.4H997.3M631.1,800.5H635.9M999.3,800.5H997.3M629.8,793.6H637.2M999.3,793.6H996.3M631.1,786.8H635.9M999.3,786.8H997.3M631.1,779.9H635.9M999.3,779.9H997.3M631.1,773.0H635.9M999.3,773.0H997.3M631.1,766.1H635.9M999.3,766.1H997.3M629.8,759.2H637.2M999.3,759.2H996.3M631.1,752.4H635.9M999.3,752.4H997.3M631.1,745.5H635.9M999.3,745.5H997.3M631.1,738.6H635.9M999.3,738.6H997.3M631.1,731.8H635.9M999.3,731.8H997.3M629.8,724.9H637.2M999.3,724.9H996.3M631.1,718.0H635.9M999.3,718.0H997.3M631.1,711.1H635.9M999.3,711.1H997.3M631.1,704.2H635.9M999.3,704.2H997.3M631.1,697.4H635.9M999.3,697.4H997.3M629.8,690.5H637.2M999.3,690.5H996.3M631.1,683.6H635.9M999.3,683.6H997.3M631.1,676.8H635.9M999.3,676.8H997.3M631.1,669.9H635.9M999.3,669.9H997.3M631.1,663.0H635.9M999.3,663.0H997.3M629.8,656.1H637.2M999.3,656.1H996.3M631.1,649.2H635.9M999.3,649.2H997.3M631.1,642.4H635.9M999.3,642.4H997.3M631.1,635.5H635.9M999.3,635.5H997.3M631.1,628.6H635.9M999.3,628.6H997.3M629.8,621.8H637.2M999.3,621.8H996.3M631.1,614.9H635.9M999.3,614.9H997.3M631.1,608.0H635.9M999.3,608.0H997.3M631.1,601.1H635.9M999.3,601.1H997.3M631.1,594.2H635.9M999.3,594.2H997.3M629.8,587.4H637.2M999.3,587.4H996.3M631.1,580.5H635.9M999.3,580.5H997.3M631.1,573.6H635.9M999.3,573.6H997.3M631.1,566.8H635.9M999.3,566.8H997.3M631.1,559.9H635.9M999.3,559.9H997.3M629.8,553.0H637.2M999.3,553.0H996.3" stroke="#505050" stroke-width="1.1" fill="none"/>
<line x1="633.5" y1="690.5" x2="999.3" y2="690.5" stroke="#505050" stroke-width="1.5"/>
<line x1="816.4" y1="553.0" x2="816.4" y2="828.0" stroke="#505050" stroke-width="1.5"/>
<text x="621.3" y="831.4" font-size="9.8" fill="#404040" text-anchor="end" stroke="#404040" stroke-width="0.2" stroke-linejoin="round">-0,4</text>
<text x="621.3" y="797.0" font-size="9.8" fill="#404040" text-anchor="end" stroke="#404040" stroke-width="0.2" stroke-linejoin="round">-0,3</text>
<text x="621.3" y="762.6" font-size="9.8" fill="#404040" text-anchor="end" stroke="#404040" stroke-width="0.2" stroke-linejoin="round">-0,2</text>
<text x="621.3" y="728.3" font-size="9.8" fill="#404040" text-anchor="end" stroke="#404040" stroke-width="0.2" stroke-linejoin="round">-0,1</text>
<text x="621.3" y="693.9" font-size="9.8" fill="#404040" text-anchor="end" stroke="#404040" stroke-width="0.2" stroke-linejoin="round">0,0</text>
<text x="621.3" y="659.5" font-size="9.8" fill="#404040" text-anchor="end" stroke="#404040" stroke-width="0.2" stroke-linejoin="round">0,1</text>
<text x="621.3" y="625.1" font-size="9.8" fill="#404040" text-anchor="end" stroke="#404040" stroke-width="0.2" stroke-linejoin="round">0,2</text>
<text x="621.3" y="590.8" font-size="9.8" fill="#404040" text-anchor="end" stroke="#404040" stroke-width="0.2" stroke-linejoin="round">0,3</text>
<text x="621.3" y="556.4" font-size="9.8" fill="#404040" text-anchor="end" stroke="#404040" stroke-width="0.2" stroke-linejoin="round">0,4</text>
<text x="633.5" y="843.3" font-size="9.8" fill="#404040" text-anchor="middle" stroke="#404040" stroke-width="0.2" stroke-linejoin="round">-0,4</text>
<text x="679.2" y="843.3" font-size="9.8" fill="#404040" text-anchor="middle" stroke="#404040" stroke-width="0.2" stroke-linejoin="round">-0,3</text>
<text x="725.0" y="843.3" font-size="9.8" fill="#404040" text-anchor="middle" stroke="#404040" stroke-width="0.2" stroke-linejoin="round">-0,2</text>
<text x="770.7" y="843.3" font-size="9.8" fill="#404040" text-anchor="middle" stroke="#404040" stroke-width="0.2" stroke-linejoin="round">-0,1</text>
<text x="816.4" y="843.3" font-size="9.8" fill="#404040" text-anchor="middle" stroke="#404040" stroke-width="0.2" stroke-linejoin="round">0,0</text>
<text x="862.1" y="843.3" font-size="9.8" fill="#404040" text-anchor="middle" stroke="#404040" stroke-width="0.2" stroke-linejoin="round">0,1</text>
<text x="907.9" y="843.3" font-size="9.8" fill="#404040" text-anchor="middle" stroke="#404040" stroke-width="0.2" stroke-linejoin="round">0,2</text>
<text x="953.6" y="843.3" font-size="9.8" fill="#404040" text-anchor="middle" stroke="#404040" stroke-width="0.2" stroke-linejoin="round">0,3</text>
<text x="999.3" y="843.3" font-size="9.8" fill="#404040" text-anchor="middle" stroke="#404040" stroke-width="0.2" stroke-linejoin="round">0,4</text>
<ellipse cx="799.9" cy="690.8" rx="69.1" ry="90.2" transform="rotate(-4.2 799.9 690.8)" fill="none" stroke="#ff2a2a" stroke-width="1.6" stroke-dasharray="5.3,3.5"/>
<ellipse cx="894.8" cy="696.5" rx="61.5" ry="80.3" transform="rotate(-21.8 894.8 696.5)" fill="none" stroke="#33cc33" stroke-width="1.6" stroke-dasharray="5.3,3.5"/>
<ellipse cx="796.5" cy="638.7" rx="3.5" ry="3.4" fill="#00cc00" stroke="#002200" stroke-width="1"/>
<ellipse cx="801.6" cy="641.5" rx="3.5" ry="3.4" fill="#00cc00" stroke="#002200" stroke-width="1"/>
<ellipse cx="813.3" cy="652.1" rx="3.5" ry="3.4" fill="#00cc00" stroke="#002200" stroke-width="1"/>
<ellipse cx="818.0" cy="692.5" rx="3.5" ry="3.4" fill="#00cc00" stroke="#002200" stroke-width="1"/>
<ellipse cx="883.8" cy="639.5" rx="3.5" ry="3.4" fill="#00cc00" stroke="#002200" stroke-width="1"/>
<ellipse cx="932.5" cy="656.7" rx="3.5" ry="3.4" fill="#00cc00" stroke="#002200" stroke-width="1"/>
<ellipse cx="895.0" cy="669.4" rx="3.5" ry="3.4" fill="#00cc00" stroke="#002200" stroke-width="1"/>
<ellipse cx="867.2" cy="678.4" rx="3.5" ry="3.4" fill="#00cc00" stroke="#002200" stroke-width="1"/>
<ellipse cx="870.2" cy="682.3" rx="3.5" ry="3.4" fill="#00cc00" stroke="#002200" stroke-width="1"/>
<ellipse cx="870.0" cy="685.6" rx="3.5" ry="3.4" fill="#00cc00" stroke="#002200" stroke-width="1"/>
<ellipse cx="831.1" cy="681.1" rx="3.5" ry="3.4" fill="#00cc00" stroke="#002200" stroke-width="1"/>
<ellipse cx="894.0" cy="689.5" rx="3.5" ry="3.4" fill="#00cc00" stroke="#002200" stroke-width="1"/>
<ellipse cx="818.8" cy="693.4" rx="3.5" ry="3.4" fill="#00cc00" stroke="#002200" stroke-width="1"/>
<ellipse cx="833.4" cy="716.1" rx="3.5" ry="3.4" fill="#00cc00" stroke="#002200" stroke-width="1"/>
<ellipse cx="850.0" cy="711.3" rx="3.5" ry="3.4" fill="#00cc00" stroke="#002200" stroke-width="1"/>
<ellipse cx="906.1" cy="726.1" rx="3.5" ry="3.4" fill="#00cc00" stroke="#002200" stroke-width="1"/>
<ellipse cx="938.3" cy="751.1" rx="3.5" ry="3.4" fill="#00cc00" stroke="#002200" stroke-width="1"/>
<ellipse cx="833.4" cy="759.1" rx="3.5" ry="3.4" fill="#00cc00" stroke="#002200" stroke-width="1"/>
<ellipse cx="791.4" cy="596.6" rx="3.6" ry="3.2" fill="#ff0000" stroke="#220000" stroke-width="1"/>
<ellipse cx="747.5" cy="647.1" rx="3.6" ry="3.2" fill="#ff0000" stroke="#220000" stroke-width="1"/>
<ellipse cx="782.7" cy="641.1" rx="3.6" ry="3.2" fill="#ff0000" stroke="#220000" stroke-width="1"/>
<ellipse cx="783.6" cy="647.1" rx="3.6" ry="3.2" fill="#ff0000" stroke="#220000" stroke-width="1"/>
<ellipse cx="792.0" cy="652.3" rx="3.6" ry="3.2" fill="#ff0000" stroke="#220000" stroke-width="1"/>
<ellipse cx="810.0" cy="647.1" rx="3.6" ry="3.2" fill="#ff0000" stroke="#220000" stroke-width="1"/>
<ellipse cx="767.5" cy="660.4" rx="3.6" ry="3.2" fill="#ff0000" stroke="#220000" stroke-width="1"/>
<ellipse cx="799.8" cy="659.5" rx="3.6" ry="3.2" fill="#ff0000" stroke="#220000" stroke-width="1"/>
<ellipse cx="799.8" cy="664.7" rx="3.6" ry="3.2" fill="#ff0000" stroke="#220000" stroke-width="1"/>
<ellipse cx="808.7" cy="666.0" rx="3.6" ry="3.2" fill="#ff0000" stroke="#220000" stroke-width="1"/>
<ellipse cx="813.2" cy="669.0" rx="3.6" ry="3.2" fill="#ff0000" stroke="#220000" stroke-width="1"/>
<ellipse cx="692.7" cy="671.2" rx="3.6" ry="3.2" fill="#ff0000" stroke="#220000" stroke-width="1"/>
<ellipse cx="757.3" cy="672.1" rx="3.6" ry="3.2" fill="#ff0000" stroke="#220000" stroke-width="1"/>
<ellipse cx="799.8" cy="672.7" rx="3.6" ry="3.2" fill="#ff0000" stroke="#220000" stroke-width="1"/>
<ellipse cx="814.3" cy="680.8" rx="3.6" ry="3.2" fill="#ff0000" stroke="#220000" stroke-width="1"/>
<ellipse cx="810.9" cy="687.5" rx="3.6" ry="3.2" fill="#ff0000" stroke="#220000" stroke-width="1"/>
<ellipse cx="764.3" cy="691.0" rx="3.6" ry="3.2" fill="#ff0000" stroke="#220000" stroke-width="1"/>
<ellipse cx="833.0" cy="648.5" rx="3.6" ry="3.2" fill="#ff0000" stroke="#220000" stroke-width="1"/>
<ellipse cx="831.5" cy="652.4" rx="3.6" ry="3.2" fill="#ff0000" stroke="#220000" stroke-width="1"/>
<ellipse cx="838.3" cy="671.0" rx="3.6" ry="3.2" fill="#ff0000" stroke="#220000" stroke-width="1"/>
<ellipse cx="835.4" cy="677.8" rx="3.6" ry="3.2" fill="#ff0000" stroke="#220000" stroke-width="1"/>
<ellipse cx="834.4" cy="681.3" rx="3.6" ry="3.2" fill="#ff0000" stroke="#220000" stroke-width="1"/>
<ellipse cx="829.5" cy="693.4" rx="3.6" ry="3.2" fill="#ff0000" stroke="#220000" stroke-width="1"/>
<ellipse cx="766.0" cy="701.3" rx="3.6" ry="3.2" fill="#ff0000" stroke="#220000" stroke-width="1"/>
<ellipse cx="772.5" cy="707.3" rx="3.6" ry="3.2" fill="#ff0000" stroke="#220000" stroke-width="1"/>
<ellipse cx="776.6" cy="704.1" rx="3.6" ry="3.2" fill="#ff0000" stroke="#220000" stroke-width="1"/>
<ellipse cx="780.7" cy="708.8" rx="3.6" ry="3.2" fill="#ff0000" stroke="#220000" stroke-width="1"/>
<ellipse cx="796.1" cy="715.3" rx="3.6" ry="3.2" fill="#ff0000" stroke="#220000" stroke-width="1"/>
<ellipse cx="804.8" cy="717.5" rx="3.6" ry="3.2" fill="#ff0000" stroke="#220000" stroke-width="1"/>
<ellipse cx="816.1" cy="698.0" rx="3.6" ry="3.2" fill="#ff0000" stroke="#220000" stroke-width="1"/>
<ellipse cx="815.6" cy="706.9" rx="3.6" ry="3.2" fill="#ff0000" stroke="#220000" stroke-width="1"/>
<ellipse cx="813.3" cy="725.5" rx="3.6" ry="3.2" fill="#ff0000" stroke="#220000" stroke-width="1"/>
<ellipse cx="752.5" cy="732.9" rx="3.6" ry="3.2" fill="#ff0000" stroke="#220000" stroke-width="1"/>
<ellipse cx="796.1" cy="735.7" rx="3.6" ry="3.2" fill="#ff0000" stroke="#220000" stroke-width="1"/>
<ellipse cx="775.7" cy="750.1" rx="3.6" ry="3.2" fill="#ff0000" stroke="#220000" stroke-width="1"/>
<ellipse cx="761.2" cy="756.1" rx="3.6" ry="3.2" fill="#ff0000" stroke="#220000" stroke-width="1"/>
<ellipse cx="730.2" cy="760.7" rx="3.6" ry="3.2" fill="#ff0000" stroke="#220000" stroke-width="1"/>
<ellipse cx="744.1" cy="762.6" rx="3.6" ry="3.2" fill="#ff0000" stroke="#220000" stroke-width="1"/>
<ellipse cx="820.7" cy="705.4" rx="3.6" ry="3.2" fill="#ff0000" stroke="#220000" stroke-width="1"/>
<ellipse cx="838.9" cy="705.4" rx="3.6" ry="3.2" fill="#ff0000" stroke="#220000" stroke-width="1"/>
<ellipse cx="849.0" cy="706.4" rx="3.6" ry="3.2" fill="#ff0000" stroke="#220000" stroke-width="1"/>
<ellipse cx="840.7" cy="713.6" rx="3.6" ry="3.2" fill="#ff0000" stroke="#220000" stroke-width="1"/>
<ellipse cx="860.0" cy="703.8" rx="3.6" ry="3.2" fill="#ff0000" stroke="#220000" stroke-width="1"/>
<ellipse cx="866.6" cy="709.7" rx="3.6" ry="3.2" fill="#ff0000" stroke="#220000" stroke-width="1"/>
<ellipse cx="856.3" cy="718.1" rx="3.6" ry="3.2" fill="#ff0000" stroke="#220000" stroke-width="1"/>
<ellipse cx="822.3" cy="725.3" rx="3.6" ry="3.2" fill="#ff0000" stroke="#220000" stroke-width="1"/>
<ellipse cx="850.6" cy="724.9" rx="3.6" ry="3.2" fill="#ff0000" stroke="#220000" stroke-width="1"/>
<text transform="translate(593.0,691.2) rotate(-90)" x="0" y="3.5" font-size="9.8" fill="#303030" font-weight="bold" text-anchor="middle" textLength="103.1" lengthAdjust="spacingAndGlyphs">Principal Component 2</text>
<text transform="translate(593.0,599.5) rotate(-90)" x="0" y="3.5" font-size="9.8" fill="#404040" text-anchor="middle" textLength="30.6" lengthAdjust="spacingAndGlyphs">30,29%</text>
<rect x="586.5" y="619.1" width="13" height="13" fill="#fff" stroke="#eceef5" stroke-width="0.8"/>
<path d="M589.4,627.8 L593.0,623.6 L596.6,627.8" fill="none" stroke="#555" stroke-width="1.6"/>
<rect x="586.5" y="748.3" width="13" height="13" fill="#fff" stroke="#eceef5" stroke-width="0.8"/>
<path d="M589.4,752.6 L593.0,756.8 L596.6,752.6" fill="none" stroke="#555" stroke-width="1.6"/>
<text x="758.1" y="859.3" font-size="9.8" fill="#303030" font-weight="bold" textLength="114.1" lengthAdjust="spacingAndGlyphs">Principal Component 1</text>
<rect x="880.9" y="849.3" width="13" height="13" fill="#fff" stroke="#eceef5" stroke-width="0.8"/>
<path d="M885.4,852.6 L889.6,855.8 L885.4,859.0" fill="none" stroke="#555" stroke-width="1.6"/>
<text x="897.4" y="859.3" font-size="9.8" fill="#404040" textLength="36.1" lengthAdjust="spacingAndGlyphs">45,81%</text>
<rect x="610" y="543" width="20" height="8.2" fill="#fff"/>
<text x="675.5" y="625.2" font-size="28.5" fill="#ff0000" font-weight="bold" textLength="26.5" lengthAdjust="spacingAndGlyphs">IR</text>
<text x="930.5" y="623.1" font-size="28" fill="#00b050" font-weight="bold" textLength="67.0" lengthAdjust="spacingAndGlyphs">CTRL</text>
<text x="8.8" y="883.0" font-size="35" fill="#111" textLength="19.3" lengthAdjust="spacingAndGlyphs" stroke="#111" stroke-width="0.2" stroke-linejoin="round">c</text>
<rect x="64.5" y="924.2" width="121.0" height="40.4" fill="#d3dfee" stroke="#000" stroke-width="2"/>
<text x="80.0" y="952.0" font-size="23.5" fill="#111" font-weight="bold" textLength="89.0" lengthAdjust="spacingAndGlyphs">Day 3+7</text>
<rect x="231.5" y="866.8" width="108.9" height="39.9" fill="#f3b0b8" stroke="#000" stroke-width="2"/>
<text x="246.9" y="893.6" font-size="23.5" fill="#111" font-weight="bold" textLength="78.1" lengthAdjust="spacingAndGlyphs">PLS-DA</text>
<path transform="translate(380.25,889.00) rotate(0.00)" d="M0,-7.80 L17.98,-7.80 L17.98,-16.19 L33.05,0 L17.98,16.19 L17.98,7.80 L0,7.80 Z" fill="#ff0000" stroke="#000" stroke-width="1.7" stroke-linejoin="miter"/>
<text x="436.4" y="892.5" font-size="19" fill="#111" textLength="47.3" lengthAdjust="spacingAndGlyphs" stroke="#111" stroke-width="0.7" stroke-linejoin="round">spots</text>
<text x="492.1" y="892.5" font-size="19" fill="#ff0000" textLength="200.7" lengthAdjust="spacingAndGlyphs" stroke="#ff0000" stroke-width="0.45" stroke-linejoin="round">164, 401, 1129, 1671</text>
<line x1="501.4" y1="899.0" x2="489.7" y2="915.5" stroke="#000" stroke-width="1.5"/>
<path d="M484.2,923.3 L485.7,911.5 L494.8,918.0 Z" fill="#000"/>
<line x1="551.4" y1="903.0" x2="545.7" y2="920.5" stroke="#000" stroke-width="1.5"/>
<path d="M542.8,929.5 L540.7,917.8 L551.4,921.2 Z" fill="#000"/>
<line x1="610.4" y1="902.0" x2="616.0" y2="921.2" stroke="#000" stroke-width="1.5"/>
<path d="M618.6,930.3 L610.3,921.8 L621.1,918.7 Z" fill="#000"/>
<line x1="674.3" y1="899.0" x2="682.3" y2="912.1" stroke="#000" stroke-width="1.5"/>
<path d="M687.3,920.2 L677.0,914.2 L686.6,908.3 Z" fill="#000"/>
<text x="440.0" y="938.1" font-size="19" fill="#ff0000" textLength="37.2" lengthAdjust="spacingAndGlyphs" stroke="#ff0000" stroke-width="0.65" stroke-linejoin="round">CFH</text>
<text x="520.2" y="951.8" font-size="19" fill="#ff0000" textLength="35.1" lengthAdjust="spacingAndGlyphs" stroke="#ff0000" stroke-width="0.65" stroke-linejoin="round">CO7</text>
<text x="605.3" y="952.2" font-size="19" fill="#ff0000" textLength="60.2" lengthAdjust="spacingAndGlyphs" stroke="#ff0000" stroke-width="0.65" stroke-linejoin="round">PANK4</text>
<text x="695.7" y="938.1" font-size="19" fill="#ff0000" textLength="57.3" lengthAdjust="spacingAndGlyphs" stroke="#ff0000" stroke-width="0.65" stroke-linejoin="round">SPAK3</text>
<path transform="translate(444.04,952.59) rotate(140.60)" d="M0,-7.98 L18.38,-7.98 L18.38,-16.56 L33.79,0 L18.38,16.56 L18.38,7.98 L0,7.98 Z" fill="#ff0000" stroke="#000" stroke-width="1.7" stroke-linejoin="miter"/>
<path transform="translate(691.56,952.49) rotate(39.32)" d="M0,-8.03 L18.50,-8.03 L18.50,-16.67 L34.01,0 L18.50,16.67 L18.50,8.03 L0,8.03 Z" fill="#ff0000" stroke="#000" stroke-width="1.7" stroke-linejoin="miter"/>
<text x="272.7" y="982.7" font-size="19" fill="#ff0000" textLength="99.2" lengthAdjust="spacingAndGlyphs" stroke="#ff0000" stroke-width="0.55" stroke-linejoin="round">ROC Curve</text>
<text x="778.0" y="983.4" font-size="19" fill="#ff0000" textLength="35.4" lengthAdjust="spacingAndGlyphs" stroke="#ff0000" stroke-width="0.55" stroke-linejoin="round">PCA</text>
<rect x="756.3" y="1006.7" width="1.2" height="1.2" fill="#666"/>
<rect x="804.7" y="1006.7" width="1.2" height="1.2" fill="#666"/>
<rect x="878.3" y="1006.7" width="2.4" height="1.2" fill="#666"/>
<path d="M159.8,1017.2 H474.6 V1266.3" fill="none" stroke="#aaa" stroke-width="1.4"/>
<line x1="161.3" y1="1264.0" x2="474.6" y2="1016.1" stroke="#606060" stroke-width="1.6" stroke-linecap="round" stroke-dasharray="0.4,4.2"/>
<path d="M159.8,1016.7 V1266.3 H475.1" fill="none" stroke="#3a3a3a" stroke-width="1.8"/>
<line x1="157.2" y1="1266.3" x2="162.0" y2="1266.3" stroke="#222" stroke-width="1.3"/>
<text x="149.1" y="1269.9" font-size="11" fill="#333" textLength="4.4" lengthAdjust="spacingAndGlyphs" stroke="#333" stroke-width="0.25" stroke-linejoin="round">0</text>
<line x1="157.2" y1="1241.4" x2="162.0" y2="1241.4" stroke="#222" stroke-width="1.3"/>
<text x="142.5" y="1245.0" font-size="11" fill="#333" textLength="11.0" lengthAdjust="spacingAndGlyphs" stroke="#333" stroke-width="0.25" stroke-linejoin="round">0.1</text>
<line x1="157.2" y1="1216.5" x2="162.0" y2="1216.5" stroke="#222" stroke-width="1.3"/>
<text x="142.5" y="1220.1" font-size="11" fill="#333" textLength="11.0" lengthAdjust="spacingAndGlyphs" stroke="#333" stroke-width="0.25" stroke-linejoin="round">0.2</text>
<line x1="157.2" y1="1191.6" x2="162.0" y2="1191.6" stroke="#222" stroke-width="1.3"/>
<text x="142.5" y="1195.2" font-size="11" fill="#333" textLength="11.0" lengthAdjust="spacingAndGlyphs" stroke="#333" stroke-width="0.25" stroke-linejoin="round">0.3</text>
<line x1="157.2" y1="1166.7" x2="162.0" y2="1166.7" stroke="#222" stroke-width="1.3"/>
<text x="142.5" y="1170.3" font-size="11" fill="#333" textLength="11.0" lengthAdjust="spacingAndGlyphs" stroke="#333" stroke-width="0.25" stroke-linejoin="round">0.4</text>
<line x1="157.2" y1="1141.8" x2="162.0" y2="1141.8" stroke="#222" stroke-width="1.3"/>
<text x="142.5" y="1145.3" font-size="11" fill="#333" textLength="11.0" lengthAdjust="spacingAndGlyphs" stroke="#333" stroke-width="0.25" stroke-linejoin="round">0.5</text>
<line x1="157.2" y1="1116.8" x2="162.0" y2="1116.8" stroke="#222" stroke-width="1.3"/>
<text x="142.5" y="1120.4" font-size="11" fill="#333" textLength="11.0" lengthAdjust="spacingAndGlyphs" stroke="#333" stroke-width="0.25" stroke-linejoin="round">0.6</text>
<line x1="157.2" y1="1091.9" x2="162.0" y2="1091.9" stroke="#222" stroke-width="1.3"/>
<text x="142.5" y="1095.5" font-size="11" fill="#333" textLength="11.0" lengthAdjust="spacingAndGlyphs" stroke="#333" stroke-width="0.25" stroke-linejoin="round">0.7</text>
<line x1="157.2" y1="1067.0" x2="162.0" y2="1067.0" stroke="#222" stroke-width="1.3"/>
<text x="142.5" y="1070.6" font-size="11" fill="#333" textLength="11.0" lengthAdjust="spacingAndGlyphs" stroke="#333" stroke-width="0.25" stroke-linejoin="round">0.8</text>
<line x1="157.2" y1="1042.1" x2="162.0" y2="1042.1" stroke="#222" stroke-width="1.3"/>
<text x="142.5" y="1045.7" font-size="11" fill="#333" textLength="11.0" lengthAdjust="spacingAndGlyphs" stroke="#333" stroke-width="0.25" stroke-linejoin="round">0.9</text>
<line x1="157.2" y1="1017.2" x2="162.0" y2="1017.2" stroke="#222" stroke-width="1.3"/>
<text x="149.1" y="1020.8" font-size="11" fill="#333" textLength="4.4" lengthAdjust="spacingAndGlyphs" stroke="#333" stroke-width="0.25" stroke-linejoin="round">1</text>
<line x1="159.8" y1="1264.1" x2="159.8" y2="1270.0" stroke="#222" stroke-width="1.3"/>
<text x="157.6" y="1284.0" font-size="11" fill="#333" textLength="4.4" lengthAdjust="spacingAndGlyphs" stroke="#333" stroke-width="0.25" stroke-linejoin="round">0</text>
<line x1="222.8" y1="1264.1" x2="222.8" y2="1270.0" stroke="#222" stroke-width="1.3"/>
<text x="217.3" y="1284.0" font-size="11" fill="#333" textLength="11.0" lengthAdjust="spacingAndGlyphs" stroke="#333" stroke-width="0.25" stroke-linejoin="round">0.2</text>
<line x1="285.7" y1="1264.1" x2="285.7" y2="1270.0" stroke="#222" stroke-width="1.3"/>
<text x="280.2" y="1284.0" font-size="11" fill="#333" textLength="11.0" lengthAdjust="spacingAndGlyphs" stroke="#333" stroke-width="0.25" stroke-linejoin="round">0.4</text>
<line x1="348.7" y1="1264.1" x2="348.7" y2="1270.0" stroke="#222" stroke-width="1.3"/>
<text x="343.2" y="1284.0" font-size="11" fill="#333" textLength="11.0" lengthAdjust="spacingAndGlyphs" stroke="#333" stroke-width="0.25" stroke-linejoin="round">0.6</text>
<line x1="411.6" y1="1264.1" x2="411.6" y2="1270.0" stroke="#222" stroke-width="1.3"/>
<text x="406.1" y="1284.0" font-size="11" fill="#333" textLength="11.0" lengthAdjust="spacingAndGlyphs" stroke="#333" stroke-width="0.25" stroke-linejoin="round">0.8</text>
<line x1="474.6" y1="1264.1" x2="474.6" y2="1270.0" stroke="#222" stroke-width="1.3"/>
<text x="472.4" y="1284.0" font-size="11" fill="#333" textLength="4.4" lengthAdjust="spacingAndGlyphs" stroke="#333" stroke-width="0.25" stroke-linejoin="round">1</text>
<path d="M159.80,1266.30 L159.80,1219.59 L163.08,1219.59 L163.08,1204.03 L166.36,1204.03 L166.36,1196.24 L169.64,1196.24 L169.64,1133.97 L172.92,1133.97 L172.92,1126.18 L179.48,1126.18 L179.48,1118.40 L182.75,1118.40 L182.75,1102.83 L192.59,1102.83 L192.59,1095.04 L205.71,1095.04 L205.71,1087.26 L215.55,1087.26 L215.55,1079.47 L225.38,1079.47 L225.38,1071.69 L277.85,1071.69 L277.85,1063.91 L290.97,1063.91 L290.97,1056.12 L297.52,1056.12 L297.52,1048.34 L300.80,1048.34 L300.80,1040.55 L310.64,1040.55 L310.64,1032.77 L340.15,1032.77 L340.15,1024.98 L346.71,1024.98 L346.71,1017.20 L474.60,1017.20" fill="none" stroke="#4343a6" stroke-width="1.6" stroke-linejoin="miter"/>
<rect x="329.0" y="1202.4" width="127.5" height="38.9" fill="#fff" stroke="#4f7fc0" stroke-width="1.4"/>
<text transform="translate(107.5,1140.5) rotate(-90)" x="0" y="6.1" font-size="16.9" fill="#111" font-weight="bold" text-anchor="middle" textLength="77.6" lengthAdjust="spacingAndGlyphs">Sensitivity</text>
<text x="258.8" y="1311.1" font-size="16" fill="#111" font-weight="bold" textLength="100.0" lengthAdjust="spacingAndGlyphs">1- Specificity</text>
<text x="343.9" y="1229.0" font-size="18.5" fill="#111" textLength="97.7" lengthAdjust="spacingAndGlyphs">AUC=0.859</text>
<rect x="650.1" y="1015.2" width="357.4" height="268.8" fill="none" stroke="#606060" stroke-width="1.3"/>
<path d="M650.1,1280.7V1287.3M650.1,1015.2V1018.2M662.0,1282.4V1285.6M662.0,1015.2V1017.2M673.9,1282.4V1285.6M673.9,1015.2V1017.2M685.8,1282.4V1285.6M685.8,1015.2V1017.2M697.8,1282.4V1285.6M697.8,1015.2V1017.2M709.7,1280.7V1287.3M709.7,1015.2V1018.2M721.6,1282.4V1285.6M721.6,1015.2V1017.2M733.5,1282.4V1285.6M733.5,1015.2V1017.2M745.4,1282.4V1285.6M745.4,1015.2V1017.2M757.3,1282.4V1285.6M757.3,1015.2V1017.2M769.2,1280.7V1287.3M769.2,1015.2V1018.2M781.1,1282.4V1285.6M781.1,1015.2V1017.2M793.1,1282.4V1285.6M793.1,1015.2V1017.2M805.0,1282.4V1285.6M805.0,1015.2V1017.2M816.9,1282.4V1285.6M816.9,1015.2V1017.2M828.8,1280.7V1287.3M828.8,1015.2V1018.2M840.7,1282.4V1285.6M840.7,1015.2V1017.2M852.6,1282.4V1285.6M852.6,1015.2V1017.2M864.5,1282.4V1285.6M864.5,1015.2V1017.2M876.5,1282.4V1285.6M876.5,1015.2V1017.2M888.4,1280.7V1287.3M888.4,1015.2V1018.2M900.3,1282.4V1285.6M900.3,1015.2V1017.2M912.2,1282.4V1285.6M912.2,1015.2V1017.2M924.1,1282.4V1285.6M924.1,1015.2V1017.2M936.0,1282.4V1285.6M936.0,1015.2V1017.2M947.9,1280.7V1287.3M947.9,1015.2V1018.2M959.8,1282.4V1285.6M959.8,1015.2V1017.2M971.8,1282.4V1285.6M971.8,1015.2V1017.2M983.7,1282.4V1285.6M983.7,1015.2V1017.2M995.6,1282.4V1285.6M995.6,1015.2V1017.2M1007.5,1280.7V1287.3M1007.5,1015.2V1018.2M646.4,1284.0H653.8M1007.5,1284.0H1004.5M647.7,1276.3H652.5M1007.5,1276.3H1005.5M647.7,1268.6H652.5M1007.5,1268.6H1005.5M647.7,1261.0H652.5M1007.5,1261.0H1005.5M647.7,1253.3H652.5M1007.5,1253.3H1005.5M646.4,1245.6H653.8M1007.5,1245.6H1004.5M647.7,1237.9H652.5M1007.5,1237.9H1005.5M647.7,1230.2H652.5M1007.5,1230.2H1005.5M647.7,1222.6H652.5M1007.5,1222.6H1005.5M647.7,1214.9H652.5M1007.5,1214.9H1005.5M646.4,1207.2H653.8M1007.5,1207.2H1004.5M647.7,1199.5H652.5M1007.5,1199.5H1005.5M647.7,1191.8H652.5M1007.5,1191.8H1005.5M647.7,1184.2H652.5M1007.5,1184.2H1005.5M647.7,1176.5H652.5M1007.5,1176.5H1005.5M646.4,1168.8H653.8M1007.5,1168.8H1004.5M647.7,1161.1H652.5M1007.5,1161.1H1005.5M647.7,1153.4H652.5M1007.5,1153.4H1005.5M647.7,1145.8H652.5M1007.5,1145.8H1005.5M647.7,1138.1H652.5M1007.5,1138.1H1005.5M646.4,1130.4H653.8M1007.5,1130.4H1004.5M647.7,1122.7H652.5M1007.5,1122.7H1005.5M647.7,1115.0H652.5M1007.5,1115.0H1005.5M647.7,1107.4H652.5M1007.5,1107.4H1005.5M647.7,1099.7H652.5M1007.5,1099.7H1005.5M646.4,1092.0H653.8M1007.5,1092.0H1004.5M647.7,1084.3H652.5M1007.5,1084.3H1005.5M647.7,1076.6H652.5M1007.5,1076.6H1005.5M647.7,1069.0H652.5M1007.5,1069.0H1005.5M647.7,1061.3H652.5M1007.5,1061.3H1005.5M646.4,1053.6H653.8M1007.5,1053.6H1004.5M647.7,1045.9H652.5M1007.5,1045.9H1005.5M647.7,1038.2H652.5M1007.5,1038.2H1005.5M647.7,1030.6H652.5M1007.5,1030.6H1005.5M647.7,1022.9H652.5M1007.5,1022.9H1005.5M646.4,1015.2H653.8M1007.5,1015.2H1004.5" stroke="#505050" stroke-width="1.1" fill="none"/>
<line x1="650.1" y1="1130.4" x2="1007.5" y2="1130.4" stroke="#505050" stroke-width="1.5"/>
<line x1="828.8" y1="1015.2" x2="828.8" y2="1284.0" stroke="#505050" stroke-width="1.5"/>
<text x="637.9" y="1287.4" font-size="9.8" fill="#404040" text-anchor="end" stroke="#404040" stroke-width="0.2" stroke-linejoin="round">-0,4</text>
<text x="637.9" y="1249.0" font-size="9.8" fill="#404040" text-anchor="end" stroke="#404040" stroke-width="0.2" stroke-linejoin="round">-0,3</text>
<text x="637.9" y="1210.6" font-size="9.8" fill="#404040" text-anchor="end" stroke="#404040" stroke-width="0.2" stroke-linejoin="round">-0,2</text>
<text x="637.9" y="1172.2" font-size="9.8" fill="#404040" text-anchor="end" stroke="#404040" stroke-width="0.2" stroke-linejoin="round">-0,1</text>
<text x="637.9" y="1133.8" font-size="9.8" fill="#404040" text-anchor="end" stroke="#404040" stroke-width="0.2" stroke-linejoin="round">0,0</text>
<text x="637.9" y="1095.4" font-size="9.8" fill="#404040" text-anchor="end" stroke="#404040" stroke-width="0.2" stroke-linejoin="round">0,1</text>
<text x="637.9" y="1057.0" font-size="9.8" fill="#404040" text-anchor="end" stroke="#404040" stroke-width="0.2" stroke-linejoin="round">0,2</text>
<text x="637.9" y="1018.6" font-size="9.8" fill="#404040" text-anchor="end" stroke="#404040" stroke-width="0.2" stroke-linejoin="round">0,3</text>
<text x="650.1" y="1299.3" font-size="9.8" fill="#404040" text-anchor="middle" stroke="#404040" stroke-width="0.2" stroke-linejoin="round">-0,3</text>
<text x="709.7" y="1299.3" font-size="9.8" fill="#404040" text-anchor="middle" stroke="#404040" stroke-width="0.2" stroke-linejoin="round">-0,2</text>
<text x="769.2" y="1299.3" font-size="9.8" fill="#404040" text-anchor="middle" stroke="#404040" stroke-width="0.2" stroke-linejoin="round">-0,1</text>
<text x="828.8" y="1299.3" font-size="9.8" fill="#404040" text-anchor="middle" stroke="#404040" stroke-width="0.2" stroke-linejoin="round">0,0</text>
<text x="888.4" y="1299.3" font-size="9.8" fill="#404040" text-anchor="middle" stroke="#404040" stroke-width="0.2" stroke-linejoin="round">0,1</text>
<text x="947.9" y="1299.3" font-size="9.8" fill="#404040" text-anchor="middle" stroke="#404040" stroke-width="0.2" stroke-linejoin="round">0,2</text>
<text x="1007.5" y="1299.3" font-size="9.8" fill="#404040" text-anchor="middle" stroke="#404040" stroke-width="0.2" stroke-linejoin="round">0,3</text>
<ellipse cx="805.2" cy="1135.0" rx="77.6" ry="83.1" transform="rotate(24.7 805.2 1135.0)" fill="none" stroke="#ff2a2a" stroke-width="1.6" stroke-dasharray="5.3,3.5"/>
<ellipse cx="901.5" cy="1119.9" rx="51.1" ry="56.5" transform="rotate(-26.9 901.5 1119.9)" fill="none" stroke="#33cc33" stroke-width="1.6" stroke-dasharray="5.3,3.5"/>
<ellipse cx="820.6" cy="1103.8" rx="3.5" ry="3.4" fill="#33cc33" stroke="#002200" stroke-width="1"/>
<ellipse cx="779.1" cy="1124.3" rx="3.5" ry="3.4" fill="#33cc33" stroke="#002200" stroke-width="1"/>
<ellipse cx="817.8" cy="1119.5" rx="3.5" ry="3.4" fill="#33cc33" stroke="#002200" stroke-width="1"/>
<ellipse cx="839.4" cy="1089.8" rx="3.5" ry="3.4" fill="#33cc33" stroke="#002200" stroke-width="1"/>
<ellipse cx="851.2" cy="1088.0" rx="3.5" ry="3.4" fill="#33cc33" stroke="#002200" stroke-width="1"/>
<ellipse cx="878.1" cy="1088.7" rx="3.5" ry="3.4" fill="#33cc33" stroke="#002200" stroke-width="1"/>
<ellipse cx="871.0" cy="1095.1" rx="3.5" ry="3.4" fill="#33cc33" stroke="#002200" stroke-width="1"/>
<ellipse cx="903.4" cy="1094.9" rx="3.5" ry="3.4" fill="#33cc33" stroke="#002200" stroke-width="1"/>
<ellipse cx="927.1" cy="1102.4" rx="3.5" ry="3.4" fill="#33cc33" stroke="#002200" stroke-width="1"/>
<ellipse cx="859.0" cy="1106.5" rx="3.5" ry="3.4" fill="#33cc33" stroke="#002200" stroke-width="1"/>
<ellipse cx="884.5" cy="1109.0" rx="3.5" ry="3.4" fill="#33cc33" stroke="#002200" stroke-width="1"/>
<ellipse cx="893.1" cy="1107.9" rx="3.5" ry="3.4" fill="#33cc33" stroke="#002200" stroke-width="1"/>
<ellipse cx="899.3" cy="1109.0" rx="3.5" ry="3.4" fill="#33cc33" stroke="#002200" stroke-width="1"/>
<ellipse cx="926.6" cy="1113.7" rx="3.5" ry="3.4" fill="#33cc33" stroke="#002200" stroke-width="1"/>
<ellipse cx="902.4" cy="1119.1" rx="3.5" ry="3.4" fill="#33cc33" stroke="#002200" stroke-width="1"/>
<ellipse cx="858.6" cy="1119.9" rx="3.5" ry="3.4" fill="#33cc33" stroke="#002200" stroke-width="1"/>
<ellipse cx="886.3" cy="1124.3" rx="3.5" ry="3.4" fill="#33cc33" stroke="#002200" stroke-width="1"/>
<ellipse cx="937.3" cy="1122.2" rx="3.5" ry="3.4" fill="#33cc33" stroke="#002200" stroke-width="1"/>
<ellipse cx="925.7" cy="1130.0" rx="3.5" ry="3.4" fill="#33cc33" stroke="#002200" stroke-width="1"/>
<ellipse cx="849.0" cy="1132.5" rx="3.5" ry="3.4" fill="#33cc33" stroke="#002200" stroke-width="1"/>
<ellipse cx="802.5" cy="1142.4" rx="3.5" ry="3.4" fill="#33cc33" stroke="#002200" stroke-width="1"/>
<ellipse cx="810.3" cy="1150.0" rx="3.5" ry="3.4" fill="#33cc33" stroke="#002200" stroke-width="1"/>
<ellipse cx="809.6" cy="1175.2" rx="3.5" ry="3.4" fill="#33cc33" stroke="#002200" stroke-width="1"/>
<ellipse cx="824.7" cy="1183.5" rx="3.5" ry="3.4" fill="#33cc33" stroke="#002200" stroke-width="1"/>
<ellipse cx="848.7" cy="1133.2" rx="3.5" ry="3.4" fill="#33cc33" stroke="#002200" stroke-width="1"/>
<ellipse cx="836.1" cy="1150.7" rx="3.5" ry="3.4" fill="#33cc33" stroke="#002200" stroke-width="1"/>
<ellipse cx="870.6" cy="1139.0" rx="3.5" ry="3.4" fill="#33cc33" stroke="#002200" stroke-width="1"/>
<ellipse cx="888.0" cy="1135.7" rx="3.5" ry="3.4" fill="#33cc33" stroke="#002200" stroke-width="1"/>
<ellipse cx="906.4" cy="1137.6" rx="3.5" ry="3.4" fill="#33cc33" stroke="#002200" stroke-width="1"/>
<ellipse cx="892.2" cy="1146.9" rx="3.5" ry="3.4" fill="#33cc33" stroke="#002200" stroke-width="1"/>
<ellipse cx="899.0" cy="1144.8" rx="3.5" ry="3.4" fill="#33cc33" stroke="#002200" stroke-width="1"/>
<ellipse cx="887.7" cy="1153.0" rx="3.5" ry="3.4" fill="#33cc33" stroke="#002200" stroke-width="1"/>
<ellipse cx="858.6" cy="1181.1" rx="3.5" ry="3.4" fill="#33cc33" stroke="#002200" stroke-width="1"/>
<ellipse cx="771.4" cy="1071.6" rx="3.6" ry="3.2" fill="#ff0000" stroke="#220000" stroke-width="1"/>
<ellipse cx="733.5" cy="1086.7" rx="3.6" ry="3.2" fill="#ff0000" stroke="#220000" stroke-width="1"/>
<ellipse cx="770.0" cy="1086.7" rx="3.6" ry="3.2" fill="#ff0000" stroke="#220000" stroke-width="1"/>
<ellipse cx="785.0" cy="1088.3" rx="3.6" ry="3.2" fill="#ff0000" stroke="#220000" stroke-width="1"/>
<ellipse cx="792.5" cy="1088.0" rx="3.6" ry="3.2" fill="#ff0000" stroke="#220000" stroke-width="1"/>
<ellipse cx="795.7" cy="1092.1" rx="3.6" ry="3.2" fill="#ff0000" stroke="#220000" stroke-width="1"/>
<ellipse cx="813.7" cy="1093.2" rx="3.6" ry="3.2" fill="#ff0000" stroke="#220000" stroke-width="1"/>
<ellipse cx="825.1" cy="1090.1" rx="3.6" ry="3.2" fill="#ff0000" stroke="#220000" stroke-width="1"/>
<ellipse cx="820.2" cy="1099.0" rx="3.6" ry="3.2" fill="#ff0000" stroke="#220000" stroke-width="1"/>
<ellipse cx="825.4" cy="1098.6" rx="3.6" ry="3.2" fill="#ff0000" stroke="#220000" stroke-width="1"/>
<ellipse cx="719.1" cy="1105.1" rx="3.6" ry="3.2" fill="#ff0000" stroke="#220000" stroke-width="1"/>
<ellipse cx="753.2" cy="1113.7" rx="3.6" ry="3.2" fill="#ff0000" stroke="#220000" stroke-width="1"/>
<ellipse cx="783.4" cy="1112.0" rx="3.6" ry="3.2" fill="#ff0000" stroke="#220000" stroke-width="1"/>
<ellipse cx="789.1" cy="1112.6" rx="3.6" ry="3.2" fill="#ff0000" stroke="#220000" stroke-width="1"/>
<ellipse cx="819.9" cy="1110.6" rx="3.6" ry="3.2" fill="#ff0000" stroke="#220000" stroke-width="1"/>
<ellipse cx="825.4" cy="1112.0" rx="3.6" ry="3.2" fill="#ff0000" stroke="#220000" stroke-width="1"/>
<ellipse cx="773.1" cy="1116.3" rx="3.6" ry="3.2" fill="#ff0000" stroke="#220000" stroke-width="1"/>
<ellipse cx="791.9" cy="1118.1" rx="3.6" ry="3.2" fill="#ff0000" stroke="#220000" stroke-width="1"/>
<ellipse cx="765.2" cy="1121.8" rx="3.6" ry="3.2" fill="#ff0000" stroke="#220000" stroke-width="1"/>
<ellipse cx="773.7" cy="1122.9" rx="3.6" ry="3.2" fill="#ff0000" stroke="#220000" stroke-width="1"/>
<ellipse cx="786.4" cy="1122.9" rx="3.6" ry="3.2" fill="#ff0000" stroke="#220000" stroke-width="1"/>
<ellipse cx="792.8" cy="1122.6" rx="3.6" ry="3.2" fill="#ff0000" stroke="#220000" stroke-width="1"/>
<ellipse cx="800.5" cy="1118.5" rx="3.6" ry="3.2" fill="#ff0000" stroke="#220000" stroke-width="1"/>
<ellipse cx="812.4" cy="1121.8" rx="3.6" ry="3.2" fill="#ff0000" stroke="#220000" stroke-width="1"/>
<ellipse cx="807.6" cy="1124.3" rx="3.6" ry="3.2" fill="#ff0000" stroke="#220000" stroke-width="1"/>
<ellipse cx="820.2" cy="1124.3" rx="3.6" ry="3.2" fill="#ff0000" stroke="#220000" stroke-width="1"/>
<ellipse cx="759.7" cy="1127.3" rx="3.6" ry="3.2" fill="#ff0000" stroke="#220000" stroke-width="1"/>
<ellipse cx="766.3" cy="1130.4" rx="3.6" ry="3.2" fill="#ff0000" stroke="#220000" stroke-width="1"/>
<ellipse cx="774.8" cy="1128.0" rx="3.6" ry="3.2" fill="#ff0000" stroke="#220000" stroke-width="1"/>
<ellipse cx="782.7" cy="1130.0" rx="3.6" ry="3.2" fill="#ff0000" stroke="#220000" stroke-width="1"/>
<ellipse cx="788.4" cy="1131.8" rx="3.6" ry="3.2" fill="#ff0000" stroke="#220000" stroke-width="1"/>
<ellipse cx="810.3" cy="1130.0" rx="3.6" ry="3.2" fill="#ff0000" stroke="#220000" stroke-width="1"/>
<ellipse cx="817.8" cy="1116.0" rx="3.6" ry="3.2" fill="#ff0000" stroke="#220000" stroke-width="1"/>
<ellipse cx="832.3" cy="1102.1" rx="3.6" ry="3.2" fill="#ff0000" stroke="#220000" stroke-width="1"/>
<ellipse cx="852.8" cy="1106.2" rx="3.6" ry="3.2" fill="#ff0000" stroke="#220000" stroke-width="1"/>
<ellipse cx="860.3" cy="1102.4" rx="3.6" ry="3.2" fill="#ff0000" stroke="#220000" stroke-width="1"/>
<ellipse cx="865.1" cy="1103.1" rx="3.6" ry="3.2" fill="#ff0000" stroke="#220000" stroke-width="1"/>
<ellipse cx="881.5" cy="1093.5" rx="3.6" ry="3.2" fill="#ff0000" stroke="#220000" stroke-width="1"/>
<ellipse cx="845.7" cy="1115.4" rx="3.6" ry="3.2" fill="#ff0000" stroke="#220000" stroke-width="1"/>
<ellipse cx="840.2" cy="1118.8" rx="3.6" ry="3.2" fill="#ff0000" stroke="#220000" stroke-width="1"/>
<ellipse cx="838.5" cy="1122.9" rx="3.6" ry="3.2" fill="#ff0000" stroke="#220000" stroke-width="1"/>
<ellipse cx="843.2" cy="1124.3" rx="3.6" ry="3.2" fill="#ff0000" stroke="#220000" stroke-width="1"/>
<ellipse cx="846.7" cy="1123.2" rx="3.6" ry="3.2" fill="#ff0000" stroke="#220000" stroke-width="1"/>
<ellipse cx="837.1" cy="1128.4" rx="3.6" ry="3.2" fill="#ff0000" stroke="#220000" stroke-width="1"/>
<ellipse cx="875.4" cy="1116.1" rx="3.6" ry="3.2" fill="#ff0000" stroke="#220000" stroke-width="1"/>
<ellipse cx="874.0" cy="1121.8" rx="3.6" ry="3.2" fill="#ff0000" stroke="#220000" stroke-width="1"/>
<ellipse cx="896.6" cy="1113.3" rx="3.6" ry="3.2" fill="#ff0000" stroke="#220000" stroke-width="1"/>
<ellipse cx="857.2" cy="1129.7" rx="3.6" ry="3.2" fill="#ff0000" stroke="#220000" stroke-width="1"/>
<ellipse cx="863.8" cy="1130.0" rx="3.6" ry="3.2" fill="#ff0000" stroke="#220000" stroke-width="1"/>
<ellipse cx="859.6" cy="1132.5" rx="3.6" ry="3.2" fill="#ff0000" stroke="#220000" stroke-width="1"/>
<ellipse cx="709.1" cy="1140.4" rx="3.6" ry="3.2" fill="#ff0000" stroke="#220000" stroke-width="1"/>
<ellipse cx="780.9" cy="1136.6" rx="3.6" ry="3.2" fill="#ff0000" stroke="#220000" stroke-width="1"/>
<ellipse cx="790.2" cy="1137.3" rx="3.6" ry="3.2" fill="#ff0000" stroke="#220000" stroke-width="1"/>
<ellipse cx="782.7" cy="1143.5" rx="3.6" ry="3.2" fill="#ff0000" stroke="#220000" stroke-width="1"/>
<ellipse cx="791.9" cy="1144.1" rx="3.6" ry="3.2" fill="#ff0000" stroke="#220000" stroke-width="1"/>
<ellipse cx="782.0" cy="1150.0" rx="3.6" ry="3.2" fill="#ff0000" stroke="#220000" stroke-width="1"/>
<ellipse cx="789.8" cy="1149.3" rx="3.6" ry="3.2" fill="#ff0000" stroke="#220000" stroke-width="1"/>
<ellipse cx="816.9" cy="1143.0" rx="3.6" ry="3.2" fill="#ff0000" stroke="#220000" stroke-width="1"/>
<ellipse cx="818.5" cy="1148.2" rx="3.6" ry="3.2" fill="#ff0000" stroke="#220000" stroke-width="1"/>
<ellipse cx="818.8" cy="1152.3" rx="3.6" ry="3.2" fill="#ff0000" stroke="#220000" stroke-width="1"/>
<ellipse cx="824.3" cy="1154.7" rx="3.6" ry="3.2" fill="#ff0000" stroke="#220000" stroke-width="1"/>
<ellipse cx="762.2" cy="1157.5" rx="3.6" ry="3.2" fill="#ff0000" stroke="#220000" stroke-width="1"/>
<ellipse cx="811.4" cy="1167.7" rx="3.6" ry="3.2" fill="#ff0000" stroke="#220000" stroke-width="1"/>
<ellipse cx="797.6" cy="1171.8" rx="3.6" ry="3.2" fill="#ff0000" stroke="#220000" stroke-width="1"/>
<ellipse cx="801.7" cy="1173.8" rx="3.6" ry="3.2" fill="#ff0000" stroke="#220000" stroke-width="1"/>
<ellipse cx="821.7" cy="1175.9" rx="3.6" ry="3.2" fill="#ff0000" stroke="#220000" stroke-width="1"/>
<ellipse cx="767.5" cy="1183.5" rx="3.6" ry="3.2" fill="#ff0000" stroke="#220000" stroke-width="1"/>
<ellipse cx="747.7" cy="1197.5" rx="3.6" ry="3.2" fill="#ff0000" stroke="#220000" stroke-width="1"/>
<ellipse cx="835.7" cy="1135.9" rx="3.6" ry="3.2" fill="#ff0000" stroke="#220000" stroke-width="1"/>
<ellipse cx="841.9" cy="1137.7" rx="3.6" ry="3.2" fill="#ff0000" stroke="#220000" stroke-width="1"/>
<ellipse cx="840.2" cy="1143.2" rx="3.6" ry="3.2" fill="#ff0000" stroke="#220000" stroke-width="1"/>
<ellipse cx="848.0" cy="1145.8" rx="3.6" ry="3.2" fill="#ff0000" stroke="#220000" stroke-width="1"/>
<ellipse cx="844.3" cy="1150.0" rx="3.6" ry="3.2" fill="#ff0000" stroke="#220000" stroke-width="1"/>
<ellipse cx="844.6" cy="1153.0" rx="3.6" ry="3.2" fill="#ff0000" stroke="#220000" stroke-width="1"/>
<ellipse cx="836.4" cy="1160.3" rx="3.6" ry="3.2" fill="#ff0000" stroke="#220000" stroke-width="1"/>
<ellipse cx="841.6" cy="1159.6" rx="3.6" ry="3.2" fill="#ff0000" stroke="#220000" stroke-width="1"/>
<ellipse cx="842.6" cy="1165.7" rx="3.6" ry="3.2" fill="#ff0000" stroke="#220000" stroke-width="1"/>
<ellipse cx="833.4" cy="1169.0" rx="3.6" ry="3.2" fill="#ff0000" stroke="#220000" stroke-width="1"/>
<ellipse cx="831.3" cy="1175.3" rx="3.6" ry="3.2" fill="#ff0000" stroke="#220000" stroke-width="1"/>
<ellipse cx="848.7" cy="1175.2" rx="3.6" ry="3.2" fill="#ff0000" stroke="#220000" stroke-width="1"/>
<ellipse cx="831.2" cy="1186.1" rx="3.6" ry="3.2" fill="#ff0000" stroke="#220000" stroke-width="1"/>
<ellipse cx="855.3" cy="1143.2" rx="3.6" ry="3.2" fill="#ff0000" stroke="#220000" stroke-width="1"/>
<ellipse cx="862.4" cy="1143.2" rx="3.6" ry="3.2" fill="#ff0000" stroke="#220000" stroke-width="1"/>
<ellipse cx="858.3" cy="1133.9" rx="3.6" ry="3.2" fill="#ff0000" stroke="#220000" stroke-width="1"/>
<ellipse cx="875.4" cy="1136.6" rx="3.6" ry="3.2" fill="#ff0000" stroke="#220000" stroke-width="1"/>
<ellipse cx="872.0" cy="1153.7" rx="3.6" ry="3.2" fill="#ff0000" stroke="#220000" stroke-width="1"/>
<ellipse cx="866.5" cy="1170.1" rx="3.6" ry="3.2" fill="#ff0000" stroke="#220000" stroke-width="1"/>
<ellipse cx="923.2" cy="1145.2" rx="3.6" ry="3.2" fill="#ff0000" stroke="#220000" stroke-width="1"/>
<ellipse cx="870.9" cy="1192.0" rx="3.6" ry="3.2" fill="#ff0000" stroke="#220000" stroke-width="1"/>
<ellipse cx="827.4" cy="1214.3" rx="3.6" ry="3.2" fill="#ff0000" stroke="#220000" stroke-width="1"/>
<ellipse cx="836.3" cy="1250.8" rx="3.6" ry="3.2" fill="#ff0000" stroke="#220000" stroke-width="1"/>
<text transform="translate(610.0,1150.1) rotate(-90)" x="0" y="3.5" font-size="9.8" fill="#303030" font-weight="bold" text-anchor="middle" textLength="100.8" lengthAdjust="spacingAndGlyphs">Principal Component 2</text>
<text transform="translate(610.0,1061.2) rotate(-90)" x="0" y="3.5" font-size="9.8" fill="#404040" text-anchor="middle" textLength="29.5" lengthAdjust="spacingAndGlyphs">25,37%</text>
<rect x="603.5" y="1079.6" width="13" height="13" fill="#fff" stroke="#eceef5" stroke-width="0.8"/>
<path d="M606.4,1088.3 L610.0,1084.1 L613.6,1088.3" fill="none" stroke="#555" stroke-width="1.6"/>
<rect x="603.5" y="1206.5" width="13" height="13" fill="#fff" stroke="#eceef5" stroke-width="0.8"/>
<path d="M606.4,1210.8 L610.0,1215.0 L613.6,1210.8" fill="none" stroke="#555" stroke-width="1.6"/>
<text x="771.1" y="1315.2" font-size="9.8" fill="#303030" font-weight="bold" textLength="112.0" lengthAdjust="spacingAndGlyphs">Principal Component 1</text>
<rect x="892.8" y="1305.2" width="13" height="13" fill="#fff" stroke="#eceef5" stroke-width="0.8"/>
<path d="M897.3,1308.5 L901.5,1311.7 L897.3,1314.9" fill="none" stroke="#555" stroke-width="1.6"/>
<text x="911.1" y="1315.2" font-size="9.8" fill="#404040" textLength="31.6" lengthAdjust="spacingAndGlyphs">40,43%</text>
<text x="682.5" y="1073.1" font-size="27.5" fill="#ff0000" font-weight="bold" textLength="25.2" lengthAdjust="spacingAndGlyphs">IR</text>
<text x="928.6" y="1069.5" font-size="27" fill="#00b050" font-weight="bold" textLength="67.0" lengthAdjust="spacingAndGlyphs">CTRL</text>
</svg></body></html>
